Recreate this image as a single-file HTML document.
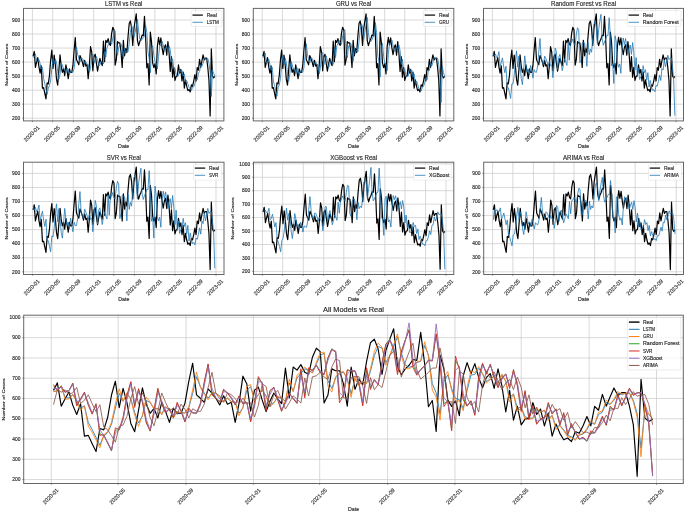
<!DOCTYPE html>
<html><head><meta charset="utf-8"><style>
html,body{margin:0;padding:0;background:#fff;width:685px;height:512px;overflow:hidden;}
svg{display:block;will-change:transform;font-family:"Liberation Sans",sans-serif;}
text{stroke:#333;stroke-width:0.15px;}
</style></head><body>
<svg width="685" height="512" viewBox="0 0 685 512" font-family="Liberation Sans, sans-serif"><g>
<line x1="32.40" y1="8.40" x2="32.40" y2="120.90" stroke="#c8c8c8" stroke-width="0.7"/>
<line x1="52.67" y1="8.40" x2="52.67" y2="120.90" stroke="#c8c8c8" stroke-width="0.7"/>
<line x1="73.27" y1="8.40" x2="73.27" y2="120.90" stroke="#c8c8c8" stroke-width="0.7"/>
<line x1="93.71" y1="8.40" x2="93.71" y2="120.90" stroke="#c8c8c8" stroke-width="0.7"/>
<line x1="113.81" y1="8.40" x2="113.81" y2="120.90" stroke="#c8c8c8" stroke-width="0.7"/>
<line x1="134.42" y1="8.40" x2="134.42" y2="120.90" stroke="#c8c8c8" stroke-width="0.7"/>
<line x1="154.86" y1="8.40" x2="154.86" y2="120.90" stroke="#c8c8c8" stroke-width="0.7"/>
<line x1="174.96" y1="8.40" x2="174.96" y2="120.90" stroke="#c8c8c8" stroke-width="0.7"/>
<line x1="195.56" y1="8.40" x2="195.56" y2="120.90" stroke="#c8c8c8" stroke-width="0.7"/>
<line x1="216.00" y1="8.40" x2="216.00" y2="120.90" stroke="#c8c8c8" stroke-width="0.7"/>
<line x1="23.50" y1="118.21" x2="223.90" y2="118.21" stroke="#c8c8c8" stroke-width="0.7"/>
<line x1="23.50" y1="104.18" x2="223.90" y2="104.18" stroke="#c8c8c8" stroke-width="0.7"/>
<line x1="23.50" y1="90.15" x2="223.90" y2="90.15" stroke="#c8c8c8" stroke-width="0.7"/>
<line x1="23.50" y1="76.12" x2="223.90" y2="76.12" stroke="#c8c8c8" stroke-width="0.7"/>
<line x1="23.50" y1="62.09" x2="223.90" y2="62.09" stroke="#c8c8c8" stroke-width="0.7"/>
<line x1="23.50" y1="48.06" x2="223.90" y2="48.06" stroke="#c8c8c8" stroke-width="0.7"/>
<line x1="23.50" y1="34.03" x2="223.90" y2="34.03" stroke="#c8c8c8" stroke-width="0.7"/>
<line x1="23.50" y1="20.00" x2="223.90" y2="20.00" stroke="#c8c8c8" stroke-width="0.7"/>
<polyline points="33.07,56.48 34.24,51.29 35.42,67.42 36.59,62.23 37.76,57.60 38.93,66.86 40.11,73.17 41.28,65.74 42.45,88.19 43.62,87.62 44.80,93.38 45.97,98.85 47.14,82.85 48.31,83.84 49.49,75.28 50.66,59.70 51.83,50.16 53.00,68.40 54.18,55.08 55.35,64.90 56.52,79.35 57.70,85.10 58.87,70.09 60.04,54.79 61.21,66.02 62.39,72.33 63.56,68.96 64.73,75.56 65.90,64.76 67.08,71.21 68.25,78.65 69.42,68.82 70.59,72.33 71.77,72.33 72.94,65.46 74.11,50.30 75.28,37.68 76.46,59.56 77.63,61.95 78.80,64.76 79.98,55.50 81.15,58.44 82.32,61.95 83.49,66.58 84.67,60.27 85.84,66.02 87.01,64.76 88.18,78.65 89.36,65.46 90.53,46.66 91.70,51.85 92.87,70.79 94.05,56.34 95.22,54.23 96.39,63.21 97.56,71.21 98.74,64.05 99.91,58.30 101.08,62.37 102.26,65.60 103.43,41.05 104.60,61.67 105.77,40.34 106.95,42.45 108.12,38.66 109.29,43.85 110.46,45.39 111.64,33.33 112.81,27.30 113.98,29.68 115.15,65.18 116.33,59.70 117.50,41.61 118.67,42.87 119.84,42.87 121.02,51.85 122.19,67.42 123.36,40.34 124.54,55.78 125.71,48.62 126.88,52.55 128.05,36.42 129.23,23.51 130.40,20.98 131.57,28.00 132.74,45.39 133.92,28.70 135.09,20.98 136.26,13.83 137.43,40.34 138.61,45.67 139.78,41.61 140.95,39.08 142.12,35.15 143.30,35.71 144.47,16.35 145.64,37.68 146.81,67.84 147.99,63.49 149.16,84.96 150.33,32.07 151.51,41.75 152.68,63.07 153.85,67.56 155.02,63.63 156.20,74.02 157.37,46.38 158.54,37.26 159.71,44.97 160.89,37.96 162.06,47.64 163.23,54.65 164.40,47.50 165.58,44.83 166.75,55.08 167.92,41.61 169.09,53.25 170.27,71.35 171.44,56.48 172.61,77.10 173.79,67.42 174.96,80.33 176.13,76.40 177.30,75.84 178.48,64.90 179.65,73.17 180.82,69.39 181.99,81.03 183.17,72.05 184.34,88.19 185.51,79.77 186.68,86.22 187.86,90.71 189.03,89.45 190.20,91.97 191.37,84.96 192.55,86.22 193.72,81.03 194.89,74.58 196.07,81.03 197.24,67.56 198.41,70.23 199.58,59.28 200.76,67.42 201.93,60.83 203.10,54.79 204.27,59.99 205.45,58.02 206.62,58.02 207.79,67.42 208.96,80.19 210.14,115.97 211.31,48.76 212.48,75.70 213.65,77.94 214.83,76.40" fill="none" stroke="#000" stroke-width="1.20" stroke-opacity="1.00" stroke-linejoin="round"/>
<polyline points="33.07,57.25 34.24,56.83 35.42,53.78 36.59,61.28 37.76,61.80 38.93,59.49 40.11,63.54 41.28,68.84 42.45,67.13 43.62,78.71 44.80,83.61 45.97,88.98 47.14,94.41 48.31,88.05 49.49,85.73 50.66,79.98 51.83,68.83 53.00,58.56 54.18,63.98 55.35,59.08 56.52,62.28 57.70,71.67 58.87,79.05 60.04,74.12 61.21,63.49 62.39,64.88 63.56,68.98 64.73,68.97 65.90,72.59 67.08,68.28 68.25,69.89 69.42,74.71 70.59,71.47 71.77,71.94 72.94,72.16 74.11,68.47 75.28,58.48 76.46,47.04 77.63,53.93 78.80,58.34 79.98,61.87 81.15,58.36 82.32,58.41 83.49,60.36 84.67,63.78 85.84,61.85 87.01,64.14 88.18,64.48 89.36,72.27 90.53,68.52 91.70,56.50 92.87,53.94 94.05,63.21 95.22,59.43 96.39,56.57 97.56,60.22 98.74,66.27 99.91,65.05 101.08,61.34 102.26,61.91 103.43,63.94 104.60,51.35 105.77,57.02 106.95,47.85 108.12,44.88 109.29,41.46 110.46,42.77 111.64,44.22 112.81,38.23 113.98,32.21 115.15,30.82 116.33,49.72 117.50,55.21 118.67,47.73 119.84,45.06 121.02,43.85 122.19,48.25 123.36,58.79 124.54,48.65 125.71,52.57 126.88,50.40 128.05,51.58 129.23,43.24 130.40,32.39 131.57,26.11 132.74,27.15 133.92,37.18 135.09,32.52 136.26,26.17 137.43,19.38 138.61,30.91 139.78,39.03 140.95,40.45 142.12,39.70 143.30,37.20 144.47,36.38 145.64,25.37 146.81,32.14 147.99,51.77 149.16,58.22 150.33,72.93 151.51,50.45 152.68,45.66 153.85,55.24 155.02,62.02 156.20,62.91 157.37,69.02 158.54,56.56 159.71,45.95 160.89,45.41 162.06,41.31 163.23,44.79 164.40,50.22 165.58,48.72 166.75,46.58 167.92,51.25 169.09,45.95 170.27,49.96 171.44,61.73 172.61,58.84 173.79,68.88 174.96,68.08 176.13,74.82 177.30,75.69 178.48,75.77 179.65,69.79 180.82,71.65 181.99,70.41 183.17,76.25 184.34,73.94 185.51,81.78 186.68,80.67 187.86,83.72 189.03,87.57 190.20,88.60 191.37,90.46 192.55,87.43 193.72,86.77 194.89,83.61 196.07,78.64 197.24,79.96 198.41,73.14 199.58,71.54 200.76,64.80 201.93,66.24 203.10,63.26 204.27,58.61 205.45,59.36 206.62,58.63 207.79,58.29 208.96,63.31 210.14,72.59 211.31,96.45 212.48,70.22 213.65,73.23 214.83,75.82" fill="none" stroke="#1f77b4" stroke-width="0.80" stroke-opacity="1.00" stroke-linejoin="round"/>
<rect x="23.50" y="8.40" width="200.40" height="112.50" fill="none" stroke="#666" stroke-width="1.0"/>
<line x1="32.40" y1="120.90" x2="32.40" y2="122.20" stroke="#444" stroke-width="0.6"/>
<text transform="translate(31.60,133.70) rotate(-45)" font-size="5.6" text-anchor="middle" dominant-baseline="central" fill="#222" textLength="19.8" lengthAdjust="spacingAndGlyphs">2020-01</text>
<line x1="52.67" y1="120.90" x2="52.67" y2="122.20" stroke="#444" stroke-width="0.6"/>
<text transform="translate(51.87,133.70) rotate(-45)" font-size="5.6" text-anchor="middle" dominant-baseline="central" fill="#222" textLength="19.8" lengthAdjust="spacingAndGlyphs">2020-05</text>
<line x1="73.27" y1="120.90" x2="73.27" y2="122.20" stroke="#444" stroke-width="0.6"/>
<text transform="translate(72.47,133.70) rotate(-45)" font-size="5.6" text-anchor="middle" dominant-baseline="central" fill="#222" textLength="19.8" lengthAdjust="spacingAndGlyphs">2020-09</text>
<line x1="93.71" y1="120.90" x2="93.71" y2="122.20" stroke="#444" stroke-width="0.6"/>
<text transform="translate(92.91,133.70) rotate(-45)" font-size="5.6" text-anchor="middle" dominant-baseline="central" fill="#222" textLength="19.8" lengthAdjust="spacingAndGlyphs">2021-01</text>
<line x1="113.81" y1="120.90" x2="113.81" y2="122.20" stroke="#444" stroke-width="0.6"/>
<text transform="translate(113.01,133.70) rotate(-45)" font-size="5.6" text-anchor="middle" dominant-baseline="central" fill="#222" textLength="19.8" lengthAdjust="spacingAndGlyphs">2021-05</text>
<line x1="134.42" y1="120.90" x2="134.42" y2="122.20" stroke="#444" stroke-width="0.6"/>
<text transform="translate(133.62,133.70) rotate(-45)" font-size="5.6" text-anchor="middle" dominant-baseline="central" fill="#222" textLength="19.8" lengthAdjust="spacingAndGlyphs">2021-09</text>
<line x1="154.86" y1="120.90" x2="154.86" y2="122.20" stroke="#444" stroke-width="0.6"/>
<text transform="translate(154.06,133.70) rotate(-45)" font-size="5.6" text-anchor="middle" dominant-baseline="central" fill="#222" textLength="19.8" lengthAdjust="spacingAndGlyphs">2022-01</text>
<line x1="174.96" y1="120.90" x2="174.96" y2="122.20" stroke="#444" stroke-width="0.6"/>
<text transform="translate(174.16,133.70) rotate(-45)" font-size="5.6" text-anchor="middle" dominant-baseline="central" fill="#222" textLength="19.8" lengthAdjust="spacingAndGlyphs">2022-05</text>
<line x1="195.56" y1="120.90" x2="195.56" y2="122.20" stroke="#444" stroke-width="0.6"/>
<text transform="translate(194.76,133.70) rotate(-45)" font-size="5.6" text-anchor="middle" dominant-baseline="central" fill="#222" textLength="19.8" lengthAdjust="spacingAndGlyphs">2022-09</text>
<line x1="216.00" y1="120.90" x2="216.00" y2="122.20" stroke="#444" stroke-width="0.6"/>
<text transform="translate(215.20,133.70) rotate(-45)" font-size="5.6" text-anchor="middle" dominant-baseline="central" fill="#222" textLength="19.8" lengthAdjust="spacingAndGlyphs">2023-01</text>
<line x1="22.20" y1="118.21" x2="23.50" y2="118.21" stroke="#444" stroke-width="0.6"/>
<text x="20.20" y="119.91" font-size="4.80" text-anchor="end" fill="#222" textLength="8.20" lengthAdjust="spacingAndGlyphs" >200</text>
<line x1="22.20" y1="104.18" x2="23.50" y2="104.18" stroke="#444" stroke-width="0.6"/>
<text x="20.20" y="105.88" font-size="4.80" text-anchor="end" fill="#222" textLength="8.20" lengthAdjust="spacingAndGlyphs" >300</text>
<line x1="22.20" y1="90.15" x2="23.50" y2="90.15" stroke="#444" stroke-width="0.6"/>
<text x="20.20" y="91.85" font-size="4.80" text-anchor="end" fill="#222" textLength="8.20" lengthAdjust="spacingAndGlyphs" >400</text>
<line x1="22.20" y1="76.12" x2="23.50" y2="76.12" stroke="#444" stroke-width="0.6"/>
<text x="20.20" y="77.82" font-size="4.80" text-anchor="end" fill="#222" textLength="8.20" lengthAdjust="spacingAndGlyphs" >500</text>
<line x1="22.20" y1="62.09" x2="23.50" y2="62.09" stroke="#444" stroke-width="0.6"/>
<text x="20.20" y="63.79" font-size="4.80" text-anchor="end" fill="#222" textLength="8.20" lengthAdjust="spacingAndGlyphs" >600</text>
<line x1="22.20" y1="48.06" x2="23.50" y2="48.06" stroke="#444" stroke-width="0.6"/>
<text x="20.20" y="49.76" font-size="4.80" text-anchor="end" fill="#222" textLength="8.20" lengthAdjust="spacingAndGlyphs" >700</text>
<line x1="22.20" y1="34.03" x2="23.50" y2="34.03" stroke="#444" stroke-width="0.6"/>
<text x="20.20" y="35.73" font-size="4.80" text-anchor="end" fill="#222" textLength="8.20" lengthAdjust="spacingAndGlyphs" >800</text>
<line x1="22.20" y1="20.00" x2="23.50" y2="20.00" stroke="#444" stroke-width="0.6"/>
<text x="20.20" y="21.70" font-size="4.80" text-anchor="end" fill="#222" textLength="8.20" lengthAdjust="spacingAndGlyphs" >900</text>
<text x="123.70" y="5.70" font-size="6.40" text-anchor="middle" fill="#222" textLength="37.30" lengthAdjust="spacingAndGlyphs" >LSTM vs Real</text>
<text x="123.70" y="147.70" font-size="5.00" text-anchor="middle" fill="#222" textLength="11.20" lengthAdjust="spacingAndGlyphs" >Date</text>
<text transform="translate(8.00,64.65) rotate(-90)" font-size="4.3" text-anchor="middle" fill="#222" textLength="42.2" lengthAdjust="spacingAndGlyphs">Number of Cases</text>
</g>
<rect x="191.20" y="10.50" width="30.70" height="15.9" rx="1" fill="#fff" fill-opacity="0.8" stroke="#dcdcdc" stroke-width="0.5"/>
<line x1="192.50" y1="15.10" x2="202.90" y2="15.10" stroke="#000" stroke-width="1.2"/>
<line x1="192.50" y1="22.30" x2="202.90" y2="22.30" stroke="#1f77b4" stroke-width="0.8"/>
<text x="206.70" y="16.80" font-size="4.90" text-anchor="start" fill="#222" textLength="10.10" lengthAdjust="spacingAndGlyphs" >Real</text>
<text x="206.70" y="24.00" font-size="4.90" text-anchor="start" fill="#222" textLength="12.20" lengthAdjust="spacingAndGlyphs" >LSTM</text>
<g>
<line x1="262.20" y1="8.40" x2="262.20" y2="120.90" stroke="#c8c8c8" stroke-width="0.7"/>
<line x1="282.47" y1="8.40" x2="282.47" y2="120.90" stroke="#c8c8c8" stroke-width="0.7"/>
<line x1="303.07" y1="8.40" x2="303.07" y2="120.90" stroke="#c8c8c8" stroke-width="0.7"/>
<line x1="323.51" y1="8.40" x2="323.51" y2="120.90" stroke="#c8c8c8" stroke-width="0.7"/>
<line x1="343.61" y1="8.40" x2="343.61" y2="120.90" stroke="#c8c8c8" stroke-width="0.7"/>
<line x1="364.22" y1="8.40" x2="364.22" y2="120.90" stroke="#c8c8c8" stroke-width="0.7"/>
<line x1="384.66" y1="8.40" x2="384.66" y2="120.90" stroke="#c8c8c8" stroke-width="0.7"/>
<line x1="404.76" y1="8.40" x2="404.76" y2="120.90" stroke="#c8c8c8" stroke-width="0.7"/>
<line x1="425.36" y1="8.40" x2="425.36" y2="120.90" stroke="#c8c8c8" stroke-width="0.7"/>
<line x1="445.80" y1="8.40" x2="445.80" y2="120.90" stroke="#c8c8c8" stroke-width="0.7"/>
<line x1="253.30" y1="118.21" x2="453.80" y2="118.21" stroke="#c8c8c8" stroke-width="0.7"/>
<line x1="253.30" y1="104.18" x2="453.80" y2="104.18" stroke="#c8c8c8" stroke-width="0.7"/>
<line x1="253.30" y1="90.15" x2="453.80" y2="90.15" stroke="#c8c8c8" stroke-width="0.7"/>
<line x1="253.30" y1="76.12" x2="453.80" y2="76.12" stroke="#c8c8c8" stroke-width="0.7"/>
<line x1="253.30" y1="62.09" x2="453.80" y2="62.09" stroke="#c8c8c8" stroke-width="0.7"/>
<line x1="253.30" y1="48.06" x2="453.80" y2="48.06" stroke="#c8c8c8" stroke-width="0.7"/>
<line x1="253.30" y1="34.03" x2="453.80" y2="34.03" stroke="#c8c8c8" stroke-width="0.7"/>
<line x1="253.30" y1="20.00" x2="453.80" y2="20.00" stroke="#c8c8c8" stroke-width="0.7"/>
<polyline points="262.87,56.48 264.04,51.29 265.22,67.42 266.39,62.23 267.56,57.60 268.73,66.86 269.91,73.17 271.08,65.74 272.25,88.19 273.42,87.62 274.60,93.38 275.77,98.85 276.94,82.85 278.11,83.84 279.29,75.28 280.46,59.70 281.63,50.16 282.80,68.40 283.98,55.08 285.15,64.90 286.32,79.35 287.50,85.10 288.67,70.09 289.84,54.79 291.01,66.02 292.19,72.33 293.36,68.96 294.53,75.56 295.70,64.76 296.88,71.21 298.05,78.65 299.22,68.82 300.39,72.33 301.57,72.33 302.74,65.46 303.91,50.30 305.08,37.68 306.26,59.56 307.43,61.95 308.60,64.76 309.78,55.50 310.95,58.44 312.12,61.95 313.29,66.58 314.47,60.27 315.64,66.02 316.81,64.76 317.98,78.65 319.16,65.46 320.33,46.66 321.50,51.85 322.67,70.79 323.85,56.34 325.02,54.23 326.19,63.21 327.36,71.21 328.54,64.05 329.71,58.30 330.88,62.37 332.06,65.60 333.23,41.05 334.40,61.67 335.57,40.34 336.75,42.45 337.92,38.66 339.09,43.85 340.26,45.39 341.44,33.33 342.61,27.30 343.78,29.68 344.95,65.18 346.13,59.70 347.30,41.61 348.47,42.87 349.64,42.87 350.82,51.85 351.99,67.42 353.16,40.34 354.34,55.78 355.51,48.62 356.68,52.55 357.85,36.42 359.03,23.51 360.20,20.98 361.37,28.00 362.54,45.39 363.72,28.70 364.89,20.98 366.06,13.83 367.23,40.34 368.41,45.67 369.58,41.61 370.75,39.08 371.92,35.15 373.10,35.71 374.27,16.35 375.44,37.68 376.61,67.84 377.79,63.49 378.96,84.96 380.13,32.07 381.31,41.75 382.48,63.07 383.65,67.56 384.82,63.63 386.00,74.02 387.17,46.38 388.34,37.26 389.51,44.97 390.69,37.96 391.86,47.64 393.03,54.65 394.20,47.50 395.38,44.83 396.55,55.08 397.72,41.61 398.89,53.25 400.07,71.35 401.24,56.48 402.41,77.10 403.59,67.42 404.76,80.33 405.93,76.40 407.10,75.84 408.28,64.90 409.45,73.17 410.62,69.39 411.79,81.03 412.97,72.05 414.14,88.19 415.31,79.77 416.48,86.22 417.66,90.71 418.83,89.45 420.00,91.97 421.17,84.96 422.35,86.22 423.52,81.03 424.69,74.58 425.87,81.03 427.04,67.56 428.21,70.23 429.38,59.28 430.56,67.42 431.73,60.83 432.90,54.79 434.07,59.99 435.25,58.02 436.42,58.02 437.59,67.42 438.76,80.19 439.94,115.97 441.11,48.76 442.28,75.70 443.45,77.94 444.63,76.40" fill="none" stroke="#000" stroke-width="1.20" stroke-opacity="1.00" stroke-linejoin="round"/>
<polyline points="262.87,57.42 264.04,56.79 265.22,53.10 266.39,62.70 267.56,62.38 268.73,59.18 269.91,64.33 271.08,70.25 272.25,67.23 273.42,81.27 274.60,85.53 275.77,90.79 276.94,96.19 278.11,87.25 279.29,84.96 280.46,78.47 281.63,65.90 282.80,55.36 283.98,64.10 285.15,58.05 286.32,62.64 287.50,73.83 288.67,81.38 289.84,73.81 291.01,61.07 292.19,64.39 293.36,69.71 294.53,69.21 295.70,73.46 296.88,67.63 298.05,70.03 299.22,75.80 300.39,71.13 301.57,71.93 302.74,72.20 303.91,67.68 305.08,56.04 306.26,43.74 307.43,54.34 308.60,59.44 309.78,63.00 310.95,57.97 312.12,58.29 313.29,60.74 314.47,64.65 315.64,61.71 316.81,64.60 317.98,64.70 319.16,74.04 320.33,68.29 321.50,53.80 322.67,52.49 323.85,64.75 325.02,59.11 326.19,55.84 327.36,60.78 328.54,67.77 329.71,65.28 330.88,60.60 332.06,61.79 333.23,64.34 334.40,48.73 335.57,57.40 336.75,45.97 337.92,43.61 339.09,40.29 340.26,42.68 341.44,44.50 342.61,37.01 343.78,30.50 344.95,29.95 346.13,53.55 347.30,57.67 348.47,46.91 349.64,44.20 350.82,43.31 351.99,49.03 353.16,61.35 354.34,47.28 355.51,52.97 356.68,50.06 357.85,51.73 359.03,41.47 360.20,29.43 361.37,23.77 362.54,26.60 363.72,39.19 364.89,32.16 366.06,24.67 367.23,17.41 368.41,32.77 369.58,41.42 370.75,41.54 371.92,39.89 373.10,36.72 374.27,36.04 375.44,22.85 376.61,32.78 377.79,56.27 378.96,61.11 380.13,77.09 381.31,46.92 382.48,43.45 383.65,56.60 384.82,63.94 386.00,63.74 387.17,70.62 388.34,54.38 389.51,42.91 390.69,44.29 391.86,40.05 393.03,45.13 394.20,51.51 395.38,48.82 396.55,46.15 397.72,52.13 398.89,45.08 400.07,50.55 401.24,64.49 402.41,59.12 403.59,71.17 404.76,68.66 405.93,76.48 407.10,76.43 408.28,76.03 409.45,68.57 410.62,71.65 411.79,70.13 412.97,77.43 414.14,73.83 415.31,83.45 416.48,80.98 417.66,84.49 418.83,88.66 420.00,89.19 421.17,91.05 422.35,86.97 423.52,86.47 424.69,82.83 425.87,77.30 427.04,79.80 428.21,71.60 429.38,70.68 430.56,63.04 431.73,65.98 432.90,62.53 434.07,57.35 435.25,59.11 436.42,58.38 437.59,58.14 438.76,64.36 439.94,74.96 441.11,102.44 442.28,66.47 443.45,72.65 444.63,76.20" fill="none" stroke="#1f77b4" stroke-width="0.80" stroke-opacity="1.00" stroke-linejoin="round"/>
<rect x="253.30" y="8.40" width="200.50" height="112.50" fill="none" stroke="#666" stroke-width="1.0"/>
<line x1="262.20" y1="120.90" x2="262.20" y2="122.20" stroke="#444" stroke-width="0.6"/>
<text transform="translate(261.40,133.70) rotate(-45)" font-size="5.6" text-anchor="middle" dominant-baseline="central" fill="#222" textLength="19.8" lengthAdjust="spacingAndGlyphs">2020-01</text>
<line x1="282.47" y1="120.90" x2="282.47" y2="122.20" stroke="#444" stroke-width="0.6"/>
<text transform="translate(281.67,133.70) rotate(-45)" font-size="5.6" text-anchor="middle" dominant-baseline="central" fill="#222" textLength="19.8" lengthAdjust="spacingAndGlyphs">2020-05</text>
<line x1="303.07" y1="120.90" x2="303.07" y2="122.20" stroke="#444" stroke-width="0.6"/>
<text transform="translate(302.27,133.70) rotate(-45)" font-size="5.6" text-anchor="middle" dominant-baseline="central" fill="#222" textLength="19.8" lengthAdjust="spacingAndGlyphs">2020-09</text>
<line x1="323.51" y1="120.90" x2="323.51" y2="122.20" stroke="#444" stroke-width="0.6"/>
<text transform="translate(322.71,133.70) rotate(-45)" font-size="5.6" text-anchor="middle" dominant-baseline="central" fill="#222" textLength="19.8" lengthAdjust="spacingAndGlyphs">2021-01</text>
<line x1="343.61" y1="120.90" x2="343.61" y2="122.20" stroke="#444" stroke-width="0.6"/>
<text transform="translate(342.81,133.70) rotate(-45)" font-size="5.6" text-anchor="middle" dominant-baseline="central" fill="#222" textLength="19.8" lengthAdjust="spacingAndGlyphs">2021-05</text>
<line x1="364.22" y1="120.90" x2="364.22" y2="122.20" stroke="#444" stroke-width="0.6"/>
<text transform="translate(363.42,133.70) rotate(-45)" font-size="5.6" text-anchor="middle" dominant-baseline="central" fill="#222" textLength="19.8" lengthAdjust="spacingAndGlyphs">2021-09</text>
<line x1="384.66" y1="120.90" x2="384.66" y2="122.20" stroke="#444" stroke-width="0.6"/>
<text transform="translate(383.86,133.70) rotate(-45)" font-size="5.6" text-anchor="middle" dominant-baseline="central" fill="#222" textLength="19.8" lengthAdjust="spacingAndGlyphs">2022-01</text>
<line x1="404.76" y1="120.90" x2="404.76" y2="122.20" stroke="#444" stroke-width="0.6"/>
<text transform="translate(403.96,133.70) rotate(-45)" font-size="5.6" text-anchor="middle" dominant-baseline="central" fill="#222" textLength="19.8" lengthAdjust="spacingAndGlyphs">2022-05</text>
<line x1="425.36" y1="120.90" x2="425.36" y2="122.20" stroke="#444" stroke-width="0.6"/>
<text transform="translate(424.56,133.70) rotate(-45)" font-size="5.6" text-anchor="middle" dominant-baseline="central" fill="#222" textLength="19.8" lengthAdjust="spacingAndGlyphs">2022-09</text>
<line x1="445.80" y1="120.90" x2="445.80" y2="122.20" stroke="#444" stroke-width="0.6"/>
<text transform="translate(445.00,133.70) rotate(-45)" font-size="5.6" text-anchor="middle" dominant-baseline="central" fill="#222" textLength="19.8" lengthAdjust="spacingAndGlyphs">2023-01</text>
<line x1="252.00" y1="118.21" x2="253.30" y2="118.21" stroke="#444" stroke-width="0.6"/>
<text x="250.00" y="119.91" font-size="4.80" text-anchor="end" fill="#222" textLength="8.20" lengthAdjust="spacingAndGlyphs" >200</text>
<line x1="252.00" y1="104.18" x2="253.30" y2="104.18" stroke="#444" stroke-width="0.6"/>
<text x="250.00" y="105.88" font-size="4.80" text-anchor="end" fill="#222" textLength="8.20" lengthAdjust="spacingAndGlyphs" >300</text>
<line x1="252.00" y1="90.15" x2="253.30" y2="90.15" stroke="#444" stroke-width="0.6"/>
<text x="250.00" y="91.85" font-size="4.80" text-anchor="end" fill="#222" textLength="8.20" lengthAdjust="spacingAndGlyphs" >400</text>
<line x1="252.00" y1="76.12" x2="253.30" y2="76.12" stroke="#444" stroke-width="0.6"/>
<text x="250.00" y="77.82" font-size="4.80" text-anchor="end" fill="#222" textLength="8.20" lengthAdjust="spacingAndGlyphs" >500</text>
<line x1="252.00" y1="62.09" x2="253.30" y2="62.09" stroke="#444" stroke-width="0.6"/>
<text x="250.00" y="63.79" font-size="4.80" text-anchor="end" fill="#222" textLength="8.20" lengthAdjust="spacingAndGlyphs" >600</text>
<line x1="252.00" y1="48.06" x2="253.30" y2="48.06" stroke="#444" stroke-width="0.6"/>
<text x="250.00" y="49.76" font-size="4.80" text-anchor="end" fill="#222" textLength="8.20" lengthAdjust="spacingAndGlyphs" >700</text>
<line x1="252.00" y1="34.03" x2="253.30" y2="34.03" stroke="#444" stroke-width="0.6"/>
<text x="250.00" y="35.73" font-size="4.80" text-anchor="end" fill="#222" textLength="8.20" lengthAdjust="spacingAndGlyphs" >800</text>
<line x1="252.00" y1="20.00" x2="253.30" y2="20.00" stroke="#444" stroke-width="0.6"/>
<text x="250.00" y="21.70" font-size="4.80" text-anchor="end" fill="#222" textLength="8.20" lengthAdjust="spacingAndGlyphs" >900</text>
<text x="353.55" y="5.70" font-size="6.40" text-anchor="middle" fill="#222" textLength="35.30" lengthAdjust="spacingAndGlyphs" >GRU vs Real</text>
<text x="353.55" y="147.70" font-size="5.00" text-anchor="middle" fill="#222" textLength="11.20" lengthAdjust="spacingAndGlyphs" >Date</text>
<text transform="translate(237.80,64.65) rotate(-90)" font-size="4.3" text-anchor="middle" fill="#222" textLength="42.2" lengthAdjust="spacingAndGlyphs">Number of Cases</text>
</g>
<rect x="423.40" y="10.50" width="27.80" height="15.9" rx="1" fill="#fff" fill-opacity="0.8" stroke="#dcdcdc" stroke-width="0.5"/>
<line x1="424.70" y1="15.10" x2="435.10" y2="15.10" stroke="#000" stroke-width="1.2"/>
<line x1="424.70" y1="22.30" x2="435.10" y2="22.30" stroke="#1f77b4" stroke-width="0.8"/>
<text x="438.90" y="16.80" font-size="4.90" text-anchor="start" fill="#222" textLength="10.10" lengthAdjust="spacingAndGlyphs" >Real</text>
<text x="438.90" y="24.00" font-size="4.90" text-anchor="start" fill="#222" textLength="10.00" lengthAdjust="spacingAndGlyphs" >GRU</text>
<g>
<line x1="492.40" y1="8.40" x2="492.40" y2="120.90" stroke="#c8c8c8" stroke-width="0.7"/>
<line x1="512.67" y1="8.40" x2="512.67" y2="120.90" stroke="#c8c8c8" stroke-width="0.7"/>
<line x1="533.27" y1="8.40" x2="533.27" y2="120.90" stroke="#c8c8c8" stroke-width="0.7"/>
<line x1="553.71" y1="8.40" x2="553.71" y2="120.90" stroke="#c8c8c8" stroke-width="0.7"/>
<line x1="573.81" y1="8.40" x2="573.81" y2="120.90" stroke="#c8c8c8" stroke-width="0.7"/>
<line x1="594.42" y1="8.40" x2="594.42" y2="120.90" stroke="#c8c8c8" stroke-width="0.7"/>
<line x1="614.86" y1="8.40" x2="614.86" y2="120.90" stroke="#c8c8c8" stroke-width="0.7"/>
<line x1="634.96" y1="8.40" x2="634.96" y2="120.90" stroke="#c8c8c8" stroke-width="0.7"/>
<line x1="655.56" y1="8.40" x2="655.56" y2="120.90" stroke="#c8c8c8" stroke-width="0.7"/>
<line x1="676.00" y1="8.40" x2="676.00" y2="120.90" stroke="#c8c8c8" stroke-width="0.7"/>
<line x1="483.50" y1="118.21" x2="683.50" y2="118.21" stroke="#c8c8c8" stroke-width="0.7"/>
<line x1="483.50" y1="104.18" x2="683.50" y2="104.18" stroke="#c8c8c8" stroke-width="0.7"/>
<line x1="483.50" y1="90.15" x2="683.50" y2="90.15" stroke="#c8c8c8" stroke-width="0.7"/>
<line x1="483.50" y1="76.12" x2="683.50" y2="76.12" stroke="#c8c8c8" stroke-width="0.7"/>
<line x1="483.50" y1="62.09" x2="683.50" y2="62.09" stroke="#c8c8c8" stroke-width="0.7"/>
<line x1="483.50" y1="48.06" x2="683.50" y2="48.06" stroke="#c8c8c8" stroke-width="0.7"/>
<line x1="483.50" y1="34.03" x2="683.50" y2="34.03" stroke="#c8c8c8" stroke-width="0.7"/>
<line x1="483.50" y1="20.00" x2="683.50" y2="20.00" stroke="#c8c8c8" stroke-width="0.7"/>
<polyline points="493.07,56.48 494.24,51.29 495.42,67.42 496.59,62.23 497.76,57.60 498.93,66.86 500.11,73.17 501.28,65.74 502.45,88.19 503.62,87.62 504.80,93.38 505.97,98.85 507.14,82.85 508.31,83.84 509.49,75.28 510.66,59.70 511.83,50.16 513.00,68.40 514.18,55.08 515.35,64.90 516.52,79.35 517.70,85.10 518.87,70.09 520.04,54.79 521.21,66.02 522.39,72.33 523.56,68.96 524.73,75.56 525.90,64.76 527.08,71.21 528.25,78.65 529.42,68.82 530.59,72.33 531.77,72.33 532.94,65.46 534.11,50.30 535.28,37.68 536.46,59.56 537.63,61.95 538.80,64.76 539.98,55.50 541.15,58.44 542.32,61.95 543.49,66.58 544.67,60.27 545.84,66.02 547.01,64.76 548.18,78.65 549.36,65.46 550.53,46.66 551.70,51.85 552.87,70.79 554.05,56.34 555.22,54.23 556.39,63.21 557.56,71.21 558.74,64.05 559.91,58.30 561.08,62.37 562.26,65.60 563.43,41.05 564.60,61.67 565.77,40.34 566.95,42.45 568.12,38.66 569.29,43.85 570.46,45.39 571.64,33.33 572.81,27.30 573.98,29.68 575.15,65.18 576.33,59.70 577.50,41.61 578.67,42.87 579.84,42.87 581.02,51.85 582.19,67.42 583.36,40.34 584.54,55.78 585.71,48.62 586.88,52.55 588.05,36.42 589.23,23.51 590.40,20.98 591.57,28.00 592.74,45.39 593.92,28.70 595.09,20.98 596.26,13.83 597.43,40.34 598.61,45.67 599.78,41.61 600.95,39.08 602.12,35.15 603.30,35.71 604.47,16.35 605.64,37.68 606.81,67.84 607.99,63.49 609.16,84.96 610.33,32.07 611.51,41.75 612.68,63.07 613.85,67.56 615.02,63.63 616.20,74.02 617.37,46.38 618.54,37.26 619.71,44.97 620.89,37.96 622.06,47.64 623.23,54.65 624.40,47.50 625.58,44.83 626.75,55.08 627.92,41.61 629.09,53.25 630.27,71.35 631.44,56.48 632.61,77.10 633.79,67.42 634.96,80.33 636.13,76.40 637.30,75.84 638.48,64.90 639.65,73.17 640.82,69.39 641.99,81.03 643.17,72.05 644.34,88.19 645.51,79.77 646.68,86.22 647.86,90.71 649.03,89.45 650.20,91.97 651.37,84.96 652.55,86.22 653.72,81.03 654.89,74.58 656.07,81.03 657.24,67.56 658.41,70.23 659.58,59.28 660.76,67.42 661.93,60.83 663.10,54.79 664.27,59.99 665.45,58.02 666.62,58.02 667.79,67.42 668.96,80.19 670.14,115.97 671.31,48.76 672.48,75.70 673.65,77.94 674.83,76.40" fill="none" stroke="#000" stroke-width="1.20" stroke-opacity="1.00" stroke-linejoin="round"/>
<polyline points="493.07,53.25 494.24,56.18 495.42,53.87 496.59,57.59 497.76,56.58 498.93,51.65 500.11,66.29 501.28,62.59 502.45,57.92 503.62,66.21 504.80,72.73 505.97,66.26 507.14,86.61 508.31,87.66 509.49,92.97 510.66,98.47 511.83,83.97 513.00,83.77 514.18,75.88 515.35,60.80 516.52,50.83 517.70,67.13 518.87,56.01 520.04,64.21 521.21,78.34 522.39,84.70 523.56,71.14 524.73,55.86 525.90,65.23 527.08,71.89 528.25,69.20 529.42,75.10 530.59,65.51 531.77,70.76 532.94,78.12 534.11,69.51 535.28,72.09 536.46,72.33 537.63,65.94 538.80,51.37 539.98,38.56 541.15,58.03 542.32,61.78 543.49,64.56 544.67,56.14 545.84,58.24 547.01,61.70 548.18,66.26 549.36,60.71 550.53,65.62 551.70,64.84 552.87,77.67 554.05,66.38 555.22,47.97 556.39,51.48 557.56,69.46 558.74,57.35 559.91,54.38 561.08,62.58 562.26,70.65 563.43,64.56 564.60,58.70 565.77,62.09 566.95,65.37 568.12,42.76 569.29,60.23 570.46,41.84 571.64,42.30 572.81,38.93 573.98,43.49 575.15,45.29 576.33,34.17 577.50,27.72 578.67,29.51 579.84,62.69 581.02,60.09 582.19,42.87 583.36,42.78 584.54,42.87 585.71,51.22 586.88,66.33 588.05,42.24 589.23,54.70 590.40,49.12 591.57,52.27 592.74,37.54 593.92,24.41 595.09,21.16 596.26,27.51 597.43,44.18 598.61,29.87 599.78,21.52 600.95,14.33 602.12,38.49 603.30,45.30 604.47,41.89 605.64,39.26 606.81,35.43 607.99,35.67 609.16,17.71 610.33,36.19 611.51,65.73 612.68,63.80 613.85,83.46 615.02,35.77 616.20,41.07 617.37,61.58 618.54,67.25 619.71,63.91 620.89,73.29 622.06,48.31 623.23,37.90 624.40,44.43 625.58,38.45 626.75,46.96 627.92,54.16 629.09,48.00 630.27,45.02 631.44,54.36 632.61,42.55 633.79,52.44 634.96,70.08 636.13,57.52 637.30,75.66 638.48,68.10 639.65,79.43 640.82,76.68 641.99,75.88 643.17,65.66 644.34,72.59 645.51,69.65 646.68,80.22 647.86,72.68 649.03,87.06 650.20,80.36 651.37,85.77 652.55,90.40 653.72,89.54 654.89,91.80 656.07,85.45 657.24,86.13 658.41,81.39 659.58,75.03 660.76,80.58 661.93,68.50 663.10,70.04 664.27,60.05 665.45,66.85 666.62,61.29 667.79,55.22 668.96,59.62 670.14,58.16 671.31,58.02 672.48,66.76 673.65,79.29 674.83,115.68" fill="none" stroke="#1f77b4" stroke-width="0.80" stroke-opacity="1.00" stroke-linejoin="round"/>
<rect x="483.50" y="8.40" width="200.00" height="112.50" fill="none" stroke="#666" stroke-width="1.0"/>
<line x1="492.40" y1="120.90" x2="492.40" y2="122.20" stroke="#444" stroke-width="0.6"/>
<text transform="translate(491.60,133.70) rotate(-45)" font-size="5.6" text-anchor="middle" dominant-baseline="central" fill="#222" textLength="19.8" lengthAdjust="spacingAndGlyphs">2020-01</text>
<line x1="512.67" y1="120.90" x2="512.67" y2="122.20" stroke="#444" stroke-width="0.6"/>
<text transform="translate(511.87,133.70) rotate(-45)" font-size="5.6" text-anchor="middle" dominant-baseline="central" fill="#222" textLength="19.8" lengthAdjust="spacingAndGlyphs">2020-05</text>
<line x1="533.27" y1="120.90" x2="533.27" y2="122.20" stroke="#444" stroke-width="0.6"/>
<text transform="translate(532.47,133.70) rotate(-45)" font-size="5.6" text-anchor="middle" dominant-baseline="central" fill="#222" textLength="19.8" lengthAdjust="spacingAndGlyphs">2020-09</text>
<line x1="553.71" y1="120.90" x2="553.71" y2="122.20" stroke="#444" stroke-width="0.6"/>
<text transform="translate(552.91,133.70) rotate(-45)" font-size="5.6" text-anchor="middle" dominant-baseline="central" fill="#222" textLength="19.8" lengthAdjust="spacingAndGlyphs">2021-01</text>
<line x1="573.81" y1="120.90" x2="573.81" y2="122.20" stroke="#444" stroke-width="0.6"/>
<text transform="translate(573.01,133.70) rotate(-45)" font-size="5.6" text-anchor="middle" dominant-baseline="central" fill="#222" textLength="19.8" lengthAdjust="spacingAndGlyphs">2021-05</text>
<line x1="594.42" y1="120.90" x2="594.42" y2="122.20" stroke="#444" stroke-width="0.6"/>
<text transform="translate(593.62,133.70) rotate(-45)" font-size="5.6" text-anchor="middle" dominant-baseline="central" fill="#222" textLength="19.8" lengthAdjust="spacingAndGlyphs">2021-09</text>
<line x1="614.86" y1="120.90" x2="614.86" y2="122.20" stroke="#444" stroke-width="0.6"/>
<text transform="translate(614.06,133.70) rotate(-45)" font-size="5.6" text-anchor="middle" dominant-baseline="central" fill="#222" textLength="19.8" lengthAdjust="spacingAndGlyphs">2022-01</text>
<line x1="634.96" y1="120.90" x2="634.96" y2="122.20" stroke="#444" stroke-width="0.6"/>
<text transform="translate(634.16,133.70) rotate(-45)" font-size="5.6" text-anchor="middle" dominant-baseline="central" fill="#222" textLength="19.8" lengthAdjust="spacingAndGlyphs">2022-05</text>
<line x1="655.56" y1="120.90" x2="655.56" y2="122.20" stroke="#444" stroke-width="0.6"/>
<text transform="translate(654.76,133.70) rotate(-45)" font-size="5.6" text-anchor="middle" dominant-baseline="central" fill="#222" textLength="19.8" lengthAdjust="spacingAndGlyphs">2022-09</text>
<line x1="676.00" y1="120.90" x2="676.00" y2="122.20" stroke="#444" stroke-width="0.6"/>
<text transform="translate(675.20,133.70) rotate(-45)" font-size="5.6" text-anchor="middle" dominant-baseline="central" fill="#222" textLength="19.8" lengthAdjust="spacingAndGlyphs">2023-01</text>
<line x1="482.20" y1="118.21" x2="483.50" y2="118.21" stroke="#444" stroke-width="0.6"/>
<text x="480.20" y="119.91" font-size="4.80" text-anchor="end" fill="#222" textLength="8.20" lengthAdjust="spacingAndGlyphs" >200</text>
<line x1="482.20" y1="104.18" x2="483.50" y2="104.18" stroke="#444" stroke-width="0.6"/>
<text x="480.20" y="105.88" font-size="4.80" text-anchor="end" fill="#222" textLength="8.20" lengthAdjust="spacingAndGlyphs" >300</text>
<line x1="482.20" y1="90.15" x2="483.50" y2="90.15" stroke="#444" stroke-width="0.6"/>
<text x="480.20" y="91.85" font-size="4.80" text-anchor="end" fill="#222" textLength="8.20" lengthAdjust="spacingAndGlyphs" >400</text>
<line x1="482.20" y1="76.12" x2="483.50" y2="76.12" stroke="#444" stroke-width="0.6"/>
<text x="480.20" y="77.82" font-size="4.80" text-anchor="end" fill="#222" textLength="8.20" lengthAdjust="spacingAndGlyphs" >500</text>
<line x1="482.20" y1="62.09" x2="483.50" y2="62.09" stroke="#444" stroke-width="0.6"/>
<text x="480.20" y="63.79" font-size="4.80" text-anchor="end" fill="#222" textLength="8.20" lengthAdjust="spacingAndGlyphs" >600</text>
<line x1="482.20" y1="48.06" x2="483.50" y2="48.06" stroke="#444" stroke-width="0.6"/>
<text x="480.20" y="49.76" font-size="4.80" text-anchor="end" fill="#222" textLength="8.20" lengthAdjust="spacingAndGlyphs" >700</text>
<line x1="482.20" y1="34.03" x2="483.50" y2="34.03" stroke="#444" stroke-width="0.6"/>
<text x="480.20" y="35.73" font-size="4.80" text-anchor="end" fill="#222" textLength="8.20" lengthAdjust="spacingAndGlyphs" >800</text>
<line x1="482.20" y1="20.00" x2="483.50" y2="20.00" stroke="#444" stroke-width="0.6"/>
<text x="480.20" y="21.70" font-size="4.80" text-anchor="end" fill="#222" textLength="8.20" lengthAdjust="spacingAndGlyphs" >900</text>
<text x="583.50" y="5.70" font-size="6.40" text-anchor="middle" fill="#222" textLength="65.10" lengthAdjust="spacingAndGlyphs" >Random Forest vs Real</text>
<text x="583.50" y="147.70" font-size="5.00" text-anchor="middle" fill="#222" textLength="11.20" lengthAdjust="spacingAndGlyphs" >Date</text>
<text transform="translate(468.00,64.65) rotate(-90)" font-size="4.3" text-anchor="middle" fill="#222" textLength="42.2" lengthAdjust="spacingAndGlyphs">Number of Cases</text>
</g>
<rect x="627.30" y="10.50" width="53.60" height="15.9" rx="1" fill="#fff" fill-opacity="0.8" stroke="#dcdcdc" stroke-width="0.5"/>
<line x1="628.60" y1="15.10" x2="639.00" y2="15.10" stroke="#000" stroke-width="1.2"/>
<line x1="628.60" y1="22.30" x2="639.00" y2="22.30" stroke="#1f77b4" stroke-width="0.8"/>
<text x="642.80" y="16.80" font-size="4.90" text-anchor="start" fill="#222" textLength="10.10" lengthAdjust="spacingAndGlyphs" >Real</text>
<text x="642.80" y="24.00" font-size="4.90" text-anchor="start" fill="#222" textLength="36.00" lengthAdjust="spacingAndGlyphs" >Random Forest</text>
<g>
<line x1="32.40" y1="162.20" x2="32.40" y2="274.50" stroke="#c8c8c8" stroke-width="0.7"/>
<line x1="52.67" y1="162.20" x2="52.67" y2="274.50" stroke="#c8c8c8" stroke-width="0.7"/>
<line x1="73.27" y1="162.20" x2="73.27" y2="274.50" stroke="#c8c8c8" stroke-width="0.7"/>
<line x1="93.71" y1="162.20" x2="93.71" y2="274.50" stroke="#c8c8c8" stroke-width="0.7"/>
<line x1="113.81" y1="162.20" x2="113.81" y2="274.50" stroke="#c8c8c8" stroke-width="0.7"/>
<line x1="134.42" y1="162.20" x2="134.42" y2="274.50" stroke="#c8c8c8" stroke-width="0.7"/>
<line x1="154.86" y1="162.20" x2="154.86" y2="274.50" stroke="#c8c8c8" stroke-width="0.7"/>
<line x1="174.96" y1="162.20" x2="174.96" y2="274.50" stroke="#c8c8c8" stroke-width="0.7"/>
<line x1="195.56" y1="162.20" x2="195.56" y2="274.50" stroke="#c8c8c8" stroke-width="0.7"/>
<line x1="216.00" y1="162.20" x2="216.00" y2="274.50" stroke="#c8c8c8" stroke-width="0.7"/>
<line x1="23.50" y1="271.82" x2="224.00" y2="271.82" stroke="#c8c8c8" stroke-width="0.7"/>
<line x1="23.50" y1="257.76" x2="224.00" y2="257.76" stroke="#c8c8c8" stroke-width="0.7"/>
<line x1="23.50" y1="243.70" x2="224.00" y2="243.70" stroke="#c8c8c8" stroke-width="0.7"/>
<line x1="23.50" y1="229.64" x2="224.00" y2="229.64" stroke="#c8c8c8" stroke-width="0.7"/>
<line x1="23.50" y1="215.58" x2="224.00" y2="215.58" stroke="#c8c8c8" stroke-width="0.7"/>
<line x1="23.50" y1="201.52" x2="224.00" y2="201.52" stroke="#c8c8c8" stroke-width="0.7"/>
<line x1="23.50" y1="187.46" x2="224.00" y2="187.46" stroke="#c8c8c8" stroke-width="0.7"/>
<line x1="23.50" y1="173.40" x2="224.00" y2="173.40" stroke="#c8c8c8" stroke-width="0.7"/>
<polyline points="33.07,209.96 34.24,204.75 35.42,220.92 36.59,215.72 37.76,211.08 38.93,220.36 40.11,226.69 41.28,219.24 42.45,241.73 43.62,241.17 44.80,246.93 45.97,252.42 47.14,236.39 48.31,237.37 49.49,228.80 50.66,213.19 51.83,203.63 53.00,221.91 54.18,208.55 55.35,218.39 56.52,232.87 57.70,238.64 58.87,223.59 60.04,208.27 61.21,219.52 62.39,225.84 63.56,222.47 64.73,229.08 65.90,218.25 67.08,224.72 68.25,232.17 69.42,222.33 70.59,225.84 71.77,225.84 72.94,218.95 74.11,203.77 75.28,191.12 76.46,213.05 77.63,215.44 78.80,218.25 79.98,208.97 81.15,211.92 82.32,215.44 83.49,220.08 84.67,213.75 85.84,219.52 87.01,218.25 88.18,232.17 89.36,218.95 90.53,200.11 91.70,205.32 92.87,224.30 94.05,209.82 95.22,207.71 96.39,216.70 97.56,224.72 98.74,217.55 99.91,211.78 101.08,215.86 102.26,219.09 103.43,194.49 104.60,215.16 105.77,193.79 106.95,195.90 108.12,192.10 109.29,197.30 110.46,198.85 111.64,186.76 112.81,180.71 113.98,183.10 115.15,218.67 116.33,213.19 117.50,195.05 118.67,196.32 119.84,196.32 121.02,205.32 122.19,220.92 123.36,193.79 124.54,209.25 125.71,202.08 126.88,206.02 128.05,189.85 129.23,176.91 130.40,174.38 131.57,181.41 132.74,198.85 133.92,182.12 135.09,174.38 136.26,167.21 137.43,193.79 138.61,199.13 139.78,195.05 140.95,192.52 142.12,188.58 143.30,189.15 144.47,169.74 145.64,191.12 146.81,221.34 147.99,216.99 149.16,238.50 150.33,185.49 151.51,195.19 152.68,216.56 153.85,221.06 155.02,217.13 156.20,227.53 157.37,199.83 158.54,190.69 159.71,198.43 160.89,191.40 162.06,201.10 163.23,208.13 164.40,200.96 165.58,198.29 166.75,208.55 167.92,195.05 169.09,206.72 170.27,224.86 171.44,209.96 172.61,230.62 173.79,220.92 174.96,233.86 176.13,229.92 177.30,229.36 178.48,218.39 179.65,226.69 180.82,222.89 181.99,234.56 183.17,225.56 184.34,241.73 185.51,233.30 186.68,239.76 187.86,244.26 189.03,243.00 190.20,245.53 191.37,238.50 192.55,239.76 193.72,234.56 194.89,228.09 196.07,234.56 197.24,221.06 198.41,223.73 199.58,212.77 200.76,220.92 201.93,214.31 203.10,208.27 204.27,213.47 205.45,211.50 206.62,211.50 207.79,220.92 208.96,233.72 210.14,269.57 211.31,202.22 212.48,229.22 213.65,231.47 214.83,229.92" fill="none" stroke="#000" stroke-width="1.20" stroke-opacity="1.00" stroke-linejoin="round"/>
<polyline points="33.07,205.93 34.24,210.07 35.42,207.31 36.59,211.45 37.76,210.07 38.93,204.97 40.11,220.82 41.28,215.72 42.45,211.17 43.62,220.26 44.80,226.47 45.97,219.16 47.14,241.21 48.31,240.66 49.49,246.31 50.66,251.68 51.83,235.97 53.00,236.94 54.18,228.53 55.35,213.24 56.52,203.87 57.70,221.78 58.87,208.69 60.04,218.34 61.21,232.53 62.39,238.18 63.56,223.43 64.73,208.42 65.90,219.44 67.08,225.64 68.25,222.33 69.42,228.81 70.59,218.20 71.77,224.54 72.94,231.84 74.11,222.19 75.28,225.64 76.46,225.64 77.63,218.89 78.80,204.01 79.98,191.60 81.15,213.10 82.32,215.44 83.49,218.20 84.67,209.10 85.84,212.00 87.01,215.44 88.18,219.99 89.36,213.79 90.53,219.44 91.70,218.20 92.87,231.84 94.05,218.89 95.22,200.42 96.39,205.52 97.56,224.12 98.74,209.93 99.91,207.86 101.08,216.68 102.26,224.54 103.43,217.51 104.60,211.86 105.77,215.86 106.95,219.02 108.12,194.91 109.29,215.17 110.46,194.22 111.64,196.29 112.81,192.57 113.98,197.67 115.15,199.18 116.33,187.33 117.50,181.41 118.67,183.75 119.84,218.61 121.02,213.24 122.19,195.46 123.36,196.70 124.54,196.70 125.71,205.52 126.88,220.82 128.05,194.22 129.23,209.38 130.40,202.35 131.57,206.21 132.74,190.36 133.92,177.69 135.09,175.21 136.26,182.10 137.43,199.18 138.61,182.79 139.78,175.21 140.95,168.18 142.12,194.22 143.30,199.46 144.47,195.46 145.64,192.98 146.81,189.12 147.99,189.68 149.16,170.66 150.33,191.60 151.51,221.23 152.68,216.96 153.85,238.04 155.02,186.09 156.20,195.60 157.37,216.54 158.54,220.95 159.71,217.10 160.89,227.29 162.06,200.15 163.23,191.19 164.40,198.77 165.58,191.88 166.75,201.39 167.92,208.28 169.09,201.25 170.27,198.63 171.44,208.69 172.61,195.46 173.79,206.90 174.96,224.67 176.13,210.07 177.30,230.32 178.48,220.82 179.65,233.49 180.82,229.63 181.99,229.08 183.17,218.34 184.34,226.47 185.51,222.74 186.68,234.18 187.86,225.36 189.03,241.21 190.20,232.94 191.37,239.28 192.55,243.69 193.72,242.45 194.89,244.93 196.07,238.04 197.24,239.28 198.41,234.18 199.58,227.84 200.76,234.18 201.93,220.95 203.10,223.57 204.27,212.82 205.45,220.82 206.62,214.34 207.79,208.42 208.96,213.51 210.14,211.58 211.31,211.58 212.48,220.82 213.65,233.35 214.83,268.49" fill="none" stroke="#1f77b4" stroke-width="0.80" stroke-opacity="1.00" stroke-linejoin="round"/>
<rect x="23.50" y="162.20" width="200.50" height="112.30" fill="none" stroke="#666" stroke-width="1.0"/>
<line x1="32.40" y1="274.50" x2="32.40" y2="275.80" stroke="#444" stroke-width="0.6"/>
<text transform="translate(31.60,287.30) rotate(-45)" font-size="5.6" text-anchor="middle" dominant-baseline="central" fill="#222" textLength="19.8" lengthAdjust="spacingAndGlyphs">2020-01</text>
<line x1="52.67" y1="274.50" x2="52.67" y2="275.80" stroke="#444" stroke-width="0.6"/>
<text transform="translate(51.87,287.30) rotate(-45)" font-size="5.6" text-anchor="middle" dominant-baseline="central" fill="#222" textLength="19.8" lengthAdjust="spacingAndGlyphs">2020-05</text>
<line x1="73.27" y1="274.50" x2="73.27" y2="275.80" stroke="#444" stroke-width="0.6"/>
<text transform="translate(72.47,287.30) rotate(-45)" font-size="5.6" text-anchor="middle" dominant-baseline="central" fill="#222" textLength="19.8" lengthAdjust="spacingAndGlyphs">2020-09</text>
<line x1="93.71" y1="274.50" x2="93.71" y2="275.80" stroke="#444" stroke-width="0.6"/>
<text transform="translate(92.91,287.30) rotate(-45)" font-size="5.6" text-anchor="middle" dominant-baseline="central" fill="#222" textLength="19.8" lengthAdjust="spacingAndGlyphs">2021-01</text>
<line x1="113.81" y1="274.50" x2="113.81" y2="275.80" stroke="#444" stroke-width="0.6"/>
<text transform="translate(113.01,287.30) rotate(-45)" font-size="5.6" text-anchor="middle" dominant-baseline="central" fill="#222" textLength="19.8" lengthAdjust="spacingAndGlyphs">2021-05</text>
<line x1="134.42" y1="274.50" x2="134.42" y2="275.80" stroke="#444" stroke-width="0.6"/>
<text transform="translate(133.62,287.30) rotate(-45)" font-size="5.6" text-anchor="middle" dominant-baseline="central" fill="#222" textLength="19.8" lengthAdjust="spacingAndGlyphs">2021-09</text>
<line x1="154.86" y1="274.50" x2="154.86" y2="275.80" stroke="#444" stroke-width="0.6"/>
<text transform="translate(154.06,287.30) rotate(-45)" font-size="5.6" text-anchor="middle" dominant-baseline="central" fill="#222" textLength="19.8" lengthAdjust="spacingAndGlyphs">2022-01</text>
<line x1="174.96" y1="274.50" x2="174.96" y2="275.80" stroke="#444" stroke-width="0.6"/>
<text transform="translate(174.16,287.30) rotate(-45)" font-size="5.6" text-anchor="middle" dominant-baseline="central" fill="#222" textLength="19.8" lengthAdjust="spacingAndGlyphs">2022-05</text>
<line x1="195.56" y1="274.50" x2="195.56" y2="275.80" stroke="#444" stroke-width="0.6"/>
<text transform="translate(194.76,287.30) rotate(-45)" font-size="5.6" text-anchor="middle" dominant-baseline="central" fill="#222" textLength="19.8" lengthAdjust="spacingAndGlyphs">2022-09</text>
<line x1="216.00" y1="274.50" x2="216.00" y2="275.80" stroke="#444" stroke-width="0.6"/>
<text transform="translate(215.20,287.30) rotate(-45)" font-size="5.6" text-anchor="middle" dominant-baseline="central" fill="#222" textLength="19.8" lengthAdjust="spacingAndGlyphs">2023-01</text>
<line x1="22.20" y1="271.82" x2="23.50" y2="271.82" stroke="#444" stroke-width="0.6"/>
<text x="20.20" y="273.52" font-size="4.80" text-anchor="end" fill="#222" textLength="8.20" lengthAdjust="spacingAndGlyphs" >200</text>
<line x1="22.20" y1="257.76" x2="23.50" y2="257.76" stroke="#444" stroke-width="0.6"/>
<text x="20.20" y="259.46" font-size="4.80" text-anchor="end" fill="#222" textLength="8.20" lengthAdjust="spacingAndGlyphs" >300</text>
<line x1="22.20" y1="243.70" x2="23.50" y2="243.70" stroke="#444" stroke-width="0.6"/>
<text x="20.20" y="245.40" font-size="4.80" text-anchor="end" fill="#222" textLength="8.20" lengthAdjust="spacingAndGlyphs" >400</text>
<line x1="22.20" y1="229.64" x2="23.50" y2="229.64" stroke="#444" stroke-width="0.6"/>
<text x="20.20" y="231.34" font-size="4.80" text-anchor="end" fill="#222" textLength="8.20" lengthAdjust="spacingAndGlyphs" >500</text>
<line x1="22.20" y1="215.58" x2="23.50" y2="215.58" stroke="#444" stroke-width="0.6"/>
<text x="20.20" y="217.28" font-size="4.80" text-anchor="end" fill="#222" textLength="8.20" lengthAdjust="spacingAndGlyphs" >600</text>
<line x1="22.20" y1="201.52" x2="23.50" y2="201.52" stroke="#444" stroke-width="0.6"/>
<text x="20.20" y="203.22" font-size="4.80" text-anchor="end" fill="#222" textLength="8.20" lengthAdjust="spacingAndGlyphs" >700</text>
<line x1="22.20" y1="187.46" x2="23.50" y2="187.46" stroke="#444" stroke-width="0.6"/>
<text x="20.20" y="189.16" font-size="4.80" text-anchor="end" fill="#222" textLength="8.20" lengthAdjust="spacingAndGlyphs" >800</text>
<line x1="22.20" y1="173.40" x2="23.50" y2="173.40" stroke="#444" stroke-width="0.6"/>
<text x="20.20" y="175.10" font-size="4.80" text-anchor="end" fill="#222" textLength="8.20" lengthAdjust="spacingAndGlyphs" >900</text>
<text x="123.75" y="159.50" font-size="6.40" text-anchor="middle" fill="#222" textLength="34.20" lengthAdjust="spacingAndGlyphs" >SVR vs Real</text>
<text x="123.75" y="301.30" font-size="5.00" text-anchor="middle" fill="#222" textLength="11.20" lengthAdjust="spacingAndGlyphs" >Date</text>
<text transform="translate(8.00,218.35) rotate(-90)" font-size="4.3" text-anchor="middle" fill="#222" textLength="42.2" lengthAdjust="spacingAndGlyphs">Number of Cases</text>
</g>
<rect x="193.50" y="164.30" width="28.20" height="15.9" rx="1" fill="#fff" fill-opacity="0.8" stroke="#dcdcdc" stroke-width="0.5"/>
<line x1="194.80" y1="168.10" x2="205.20" y2="168.10" stroke="#000" stroke-width="1.2"/>
<line x1="194.80" y1="175.30" x2="205.20" y2="175.30" stroke="#1f77b4" stroke-width="0.8"/>
<text x="209.00" y="169.80" font-size="4.90" text-anchor="start" fill="#222" textLength="10.10" lengthAdjust="spacingAndGlyphs" >Real</text>
<text x="209.00" y="177.00" font-size="4.90" text-anchor="start" fill="#222" textLength="9.40" lengthAdjust="spacingAndGlyphs" >SVR</text>
<g>
<line x1="262.40" y1="162.20" x2="262.40" y2="274.50" stroke="#c8c8c8" stroke-width="0.7"/>
<line x1="282.67" y1="162.20" x2="282.67" y2="274.50" stroke="#c8c8c8" stroke-width="0.7"/>
<line x1="303.27" y1="162.20" x2="303.27" y2="274.50" stroke="#c8c8c8" stroke-width="0.7"/>
<line x1="323.71" y1="162.20" x2="323.71" y2="274.50" stroke="#c8c8c8" stroke-width="0.7"/>
<line x1="343.81" y1="162.20" x2="343.81" y2="274.50" stroke="#c8c8c8" stroke-width="0.7"/>
<line x1="364.42" y1="162.20" x2="364.42" y2="274.50" stroke="#c8c8c8" stroke-width="0.7"/>
<line x1="384.86" y1="162.20" x2="384.86" y2="274.50" stroke="#c8c8c8" stroke-width="0.7"/>
<line x1="404.96" y1="162.20" x2="404.96" y2="274.50" stroke="#c8c8c8" stroke-width="0.7"/>
<line x1="425.56" y1="162.20" x2="425.56" y2="274.50" stroke="#c8c8c8" stroke-width="0.7"/>
<line x1="446.00" y1="162.20" x2="446.00" y2="274.50" stroke="#c8c8c8" stroke-width="0.7"/>
<line x1="253.50" y1="271.40" x2="453.80" y2="271.40" stroke="#c8c8c8" stroke-width="0.7"/>
<line x1="253.50" y1="257.95" x2="453.80" y2="257.95" stroke="#c8c8c8" stroke-width="0.7"/>
<line x1="253.50" y1="244.50" x2="453.80" y2="244.50" stroke="#c8c8c8" stroke-width="0.7"/>
<line x1="253.50" y1="231.05" x2="453.80" y2="231.05" stroke="#c8c8c8" stroke-width="0.7"/>
<line x1="253.50" y1="217.60" x2="453.80" y2="217.60" stroke="#c8c8c8" stroke-width="0.7"/>
<line x1="253.50" y1="204.15" x2="453.80" y2="204.15" stroke="#c8c8c8" stroke-width="0.7"/>
<line x1="253.50" y1="190.70" x2="453.80" y2="190.70" stroke="#c8c8c8" stroke-width="0.7"/>
<line x1="253.50" y1="177.25" x2="453.80" y2="177.25" stroke="#c8c8c8" stroke-width="0.7"/>
<line x1="253.50" y1="163.80" x2="453.80" y2="163.80" stroke="#c8c8c8" stroke-width="0.7"/>
<polyline points="263.07,212.22 264.24,207.24 265.42,222.71 266.59,217.73 267.76,213.30 268.93,222.17 270.11,228.23 271.28,221.10 272.45,242.62 273.62,242.08 274.80,247.59 275.97,252.84 277.14,237.51 278.31,238.45 279.49,230.24 280.66,215.31 281.83,206.17 283.00,223.65 284.18,210.88 285.35,220.29 286.52,234.14 287.70,239.66 288.87,225.27 290.04,210.61 291.21,221.37 292.39,227.42 293.56,224.19 294.73,230.51 295.90,220.16 297.08,226.34 298.25,233.47 299.42,224.06 300.59,227.42 301.77,227.42 302.94,220.83 304.11,206.30 305.28,194.20 306.46,215.18 307.63,217.47 308.80,220.16 309.98,211.28 311.15,214.10 312.32,217.47 313.49,221.90 314.67,215.85 315.84,221.37 317.01,220.16 318.18,233.47 319.36,220.83 320.53,202.81 321.70,207.78 322.87,225.94 324.05,212.09 325.22,210.07 326.39,218.68 327.56,226.34 328.74,219.48 329.91,213.97 331.08,217.87 332.26,220.96 333.43,197.43 334.60,217.20 335.77,196.75 336.95,198.77 338.12,195.14 339.29,200.12 340.46,201.59 341.64,190.03 342.81,184.24 343.98,186.53 345.15,220.56 346.33,215.31 347.50,197.96 348.67,199.17 349.84,199.17 351.02,207.78 352.19,222.71 353.36,196.75 354.54,211.55 355.71,204.69 356.88,208.45 358.05,192.99 359.23,180.61 360.40,178.19 361.57,184.92 362.74,201.59 363.92,185.59 365.09,178.19 366.26,171.33 367.43,196.75 368.61,201.86 369.78,197.96 370.95,195.54 372.12,191.78 373.30,192.31 374.47,173.75 375.64,194.20 376.81,223.11 377.99,218.95 379.16,239.52 380.33,188.82 381.51,198.10 382.68,218.54 383.85,222.85 385.02,219.08 386.20,229.03 387.37,202.54 388.54,193.79 389.71,201.19 390.89,194.47 392.06,203.75 393.23,210.47 394.40,203.61 395.58,201.06 396.75,210.88 397.92,197.96 399.09,209.13 400.27,226.48 401.44,212.22 402.61,231.99 403.79,222.71 404.96,235.09 406.13,231.32 407.30,230.78 408.48,220.29 409.65,228.23 410.82,224.59 411.99,235.76 413.17,227.15 414.34,242.62 415.51,234.55 416.68,240.73 417.86,245.04 419.03,243.83 420.20,246.25 421.37,239.52 422.55,240.73 423.72,235.76 424.89,229.57 426.07,235.76 427.24,222.85 428.41,225.40 429.58,214.91 430.76,222.71 431.93,216.39 433.10,210.61 434.27,215.58 435.45,213.70 436.62,213.70 437.79,222.71 438.96,234.95 440.14,269.25 441.31,204.82 442.48,230.65 443.65,232.80 444.83,231.32" fill="none" stroke="#000" stroke-width="1.20" stroke-opacity="1.00" stroke-linejoin="round"/>
<polyline points="263.07,210.88 264.24,211.41 265.42,210.07 266.59,212.76 267.76,212.49 268.93,208.24 270.11,219.62 271.28,218.73 272.45,214.18 273.62,220.40 274.80,227.02 275.97,222.52 277.14,238.31 278.31,242.19 279.49,246.49 280.66,251.79 281.83,240.57 283.00,238.26 284.18,231.88 285.35,218.30 286.52,208.00 287.70,220.16 288.87,213.43 290.04,218.41 291.21,231.37 292.39,238.56 293.56,228.14 294.73,213.54 295.90,219.21 297.08,226.21 298.25,224.84 299.42,229.25 300.59,222.23 301.77,225.11 302.94,232.05 304.11,225.94 305.28,226.75 306.46,227.42 307.63,222.15 308.80,209.21 309.98,196.62 311.15,210.98 312.32,217.01 313.49,219.62 314.67,213.05 315.84,213.54 317.01,216.79 318.18,221.02 319.36,217.06 320.53,220.26 321.70,220.40 322.87,230.81 324.05,223.36 325.22,206.41 326.39,206.79 327.56,222.31 328.74,214.86 329.91,210.47 331.08,216.95 332.26,224.81 333.43,220.85 334.60,215.07 335.77,217.09 336.95,220.34 338.12,202.13 339.29,213.24 340.46,200.84 341.64,198.37 342.81,195.86 343.98,199.12 345.15,201.30 346.33,192.34 347.50,185.40 348.67,186.07 349.84,213.75 351.02,216.36 352.19,201.43 353.36,198.93 354.54,199.17 355.71,206.06 356.88,219.73 358.05,201.94 359.23,208.59 360.40,206.06 361.57,207.70 362.74,196.08 363.92,183.09 365.09,178.68 366.26,183.57 367.43,198.26 368.61,188.79 369.78,179.67 370.95,167.43 372.12,191.67 373.30,200.84 374.47,198.74 375.64,196.03 376.81,192.53 377.99,192.21 379.16,168.10 380.33,190.11 381.51,217.33 382.68,219.78 383.85,235.41 385.02,198.96 386.20,196.24 387.37,214.45 388.54,221.98 389.71,219.83 390.89,227.04 392.06,207.84 393.23,195.54 394.40,199.71 395.58,195.81 396.75,201.89 397.92,209.13 399.09,204.98 400.27,201.57 401.44,208.91 402.61,200.55 403.79,206.89 404.96,223.01 406.13,215.07 407.30,228.04 408.48,224.57 409.65,232.61 410.82,232.07 411.99,230.89 413.17,222.39 414.34,226.64 415.51,225.32 416.68,233.52 417.86,228.87 419.03,239.52 420.20,236.16 421.37,239.50 422.55,244.18 423.72,244.07 424.89,245.76 426.07,240.87 427.24,240.49 428.41,236.75 429.58,230.81 430.76,234.52 431.93,225.43 433.10,224.89 434.27,217.01 435.45,221.15 436.62,217.65 437.79,211.76 438.96,214.59 440.14,214.08 441.31,213.70 442.48,220.91 443.65,232.50 444.83,269.25" fill="none" stroke="#1f77b4" stroke-width="0.80" stroke-opacity="1.00" stroke-linejoin="round"/>
<rect x="253.50" y="162.20" width="200.30" height="112.30" fill="none" stroke="#666" stroke-width="1.0"/>
<line x1="262.40" y1="274.50" x2="262.40" y2="275.80" stroke="#444" stroke-width="0.6"/>
<text transform="translate(261.60,287.30) rotate(-45)" font-size="5.6" text-anchor="middle" dominant-baseline="central" fill="#222" textLength="19.8" lengthAdjust="spacingAndGlyphs">2020-01</text>
<line x1="282.67" y1="274.50" x2="282.67" y2="275.80" stroke="#444" stroke-width="0.6"/>
<text transform="translate(281.87,287.30) rotate(-45)" font-size="5.6" text-anchor="middle" dominant-baseline="central" fill="#222" textLength="19.8" lengthAdjust="spacingAndGlyphs">2020-05</text>
<line x1="303.27" y1="274.50" x2="303.27" y2="275.80" stroke="#444" stroke-width="0.6"/>
<text transform="translate(302.47,287.30) rotate(-45)" font-size="5.6" text-anchor="middle" dominant-baseline="central" fill="#222" textLength="19.8" lengthAdjust="spacingAndGlyphs">2020-09</text>
<line x1="323.71" y1="274.50" x2="323.71" y2="275.80" stroke="#444" stroke-width="0.6"/>
<text transform="translate(322.91,287.30) rotate(-45)" font-size="5.6" text-anchor="middle" dominant-baseline="central" fill="#222" textLength="19.8" lengthAdjust="spacingAndGlyphs">2021-01</text>
<line x1="343.81" y1="274.50" x2="343.81" y2="275.80" stroke="#444" stroke-width="0.6"/>
<text transform="translate(343.01,287.30) rotate(-45)" font-size="5.6" text-anchor="middle" dominant-baseline="central" fill="#222" textLength="19.8" lengthAdjust="spacingAndGlyphs">2021-05</text>
<line x1="364.42" y1="274.50" x2="364.42" y2="275.80" stroke="#444" stroke-width="0.6"/>
<text transform="translate(363.62,287.30) rotate(-45)" font-size="5.6" text-anchor="middle" dominant-baseline="central" fill="#222" textLength="19.8" lengthAdjust="spacingAndGlyphs">2021-09</text>
<line x1="384.86" y1="274.50" x2="384.86" y2="275.80" stroke="#444" stroke-width="0.6"/>
<text transform="translate(384.06,287.30) rotate(-45)" font-size="5.6" text-anchor="middle" dominant-baseline="central" fill="#222" textLength="19.8" lengthAdjust="spacingAndGlyphs">2022-01</text>
<line x1="404.96" y1="274.50" x2="404.96" y2="275.80" stroke="#444" stroke-width="0.6"/>
<text transform="translate(404.16,287.30) rotate(-45)" font-size="5.6" text-anchor="middle" dominant-baseline="central" fill="#222" textLength="19.8" lengthAdjust="spacingAndGlyphs">2022-05</text>
<line x1="425.56" y1="274.50" x2="425.56" y2="275.80" stroke="#444" stroke-width="0.6"/>
<text transform="translate(424.76,287.30) rotate(-45)" font-size="5.6" text-anchor="middle" dominant-baseline="central" fill="#222" textLength="19.8" lengthAdjust="spacingAndGlyphs">2022-09</text>
<line x1="446.00" y1="274.50" x2="446.00" y2="275.80" stroke="#444" stroke-width="0.6"/>
<text transform="translate(445.20,287.30) rotate(-45)" font-size="5.6" text-anchor="middle" dominant-baseline="central" fill="#222" textLength="19.8" lengthAdjust="spacingAndGlyphs">2023-01</text>
<line x1="252.20" y1="271.40" x2="253.50" y2="271.40" stroke="#444" stroke-width="0.6"/>
<text x="250.20" y="273.10" font-size="4.80" text-anchor="end" fill="#222" textLength="8.20" lengthAdjust="spacingAndGlyphs" >200</text>
<line x1="252.20" y1="257.95" x2="253.50" y2="257.95" stroke="#444" stroke-width="0.6"/>
<text x="250.20" y="259.65" font-size="4.80" text-anchor="end" fill="#222" textLength="8.20" lengthAdjust="spacingAndGlyphs" >300</text>
<line x1="252.20" y1="244.50" x2="253.50" y2="244.50" stroke="#444" stroke-width="0.6"/>
<text x="250.20" y="246.20" font-size="4.80" text-anchor="end" fill="#222" textLength="8.20" lengthAdjust="spacingAndGlyphs" >400</text>
<line x1="252.20" y1="231.05" x2="253.50" y2="231.05" stroke="#444" stroke-width="0.6"/>
<text x="250.20" y="232.75" font-size="4.80" text-anchor="end" fill="#222" textLength="8.20" lengthAdjust="spacingAndGlyphs" >500</text>
<line x1="252.20" y1="217.60" x2="253.50" y2="217.60" stroke="#444" stroke-width="0.6"/>
<text x="250.20" y="219.30" font-size="4.80" text-anchor="end" fill="#222" textLength="8.20" lengthAdjust="spacingAndGlyphs" >600</text>
<line x1="252.20" y1="204.15" x2="253.50" y2="204.15" stroke="#444" stroke-width="0.6"/>
<text x="250.20" y="205.85" font-size="4.80" text-anchor="end" fill="#222" textLength="8.20" lengthAdjust="spacingAndGlyphs" >700</text>
<line x1="252.20" y1="190.70" x2="253.50" y2="190.70" stroke="#444" stroke-width="0.6"/>
<text x="250.20" y="192.40" font-size="4.80" text-anchor="end" fill="#222" textLength="8.20" lengthAdjust="spacingAndGlyphs" >800</text>
<line x1="252.20" y1="177.25" x2="253.50" y2="177.25" stroke="#444" stroke-width="0.6"/>
<text x="250.20" y="178.95" font-size="4.80" text-anchor="end" fill="#222" textLength="8.20" lengthAdjust="spacingAndGlyphs" >900</text>
<line x1="252.20" y1="163.80" x2="253.50" y2="163.80" stroke="#444" stroke-width="0.6"/>
<text x="250.20" y="165.50" font-size="4.80" text-anchor="end" fill="#222" textLength="10.90" lengthAdjust="spacingAndGlyphs" >1000</text>
<text x="353.65" y="159.50" font-size="6.40" text-anchor="middle" fill="#222" textLength="47.00" lengthAdjust="spacingAndGlyphs" >XGBoost vs Real</text>
<text x="353.65" y="301.30" font-size="5.00" text-anchor="middle" fill="#222" textLength="11.20" lengthAdjust="spacingAndGlyphs" >Date</text>
<text transform="translate(234.40,218.35) rotate(-90)" font-size="4.3" text-anchor="middle" fill="#222" textLength="42.2" lengthAdjust="spacingAndGlyphs">Number of Cases</text>
</g>
<rect x="413.60" y="164.30" width="37.60" height="15.9" rx="1" fill="#fff" fill-opacity="0.8" stroke="#dcdcdc" stroke-width="0.5"/>
<line x1="414.90" y1="168.10" x2="425.30" y2="168.10" stroke="#000" stroke-width="1.2"/>
<line x1="414.90" y1="175.30" x2="425.30" y2="175.30" stroke="#1f77b4" stroke-width="0.8"/>
<text x="429.10" y="169.80" font-size="4.90" text-anchor="start" fill="#222" textLength="10.10" lengthAdjust="spacingAndGlyphs" >Real</text>
<text x="429.10" y="177.00" font-size="4.90" text-anchor="start" fill="#222" textLength="20.30" lengthAdjust="spacingAndGlyphs" >XGBoost</text>
<g>
<line x1="492.60" y1="162.20" x2="492.60" y2="274.50" stroke="#c8c8c8" stroke-width="0.7"/>
<line x1="512.87" y1="162.20" x2="512.87" y2="274.50" stroke="#c8c8c8" stroke-width="0.7"/>
<line x1="533.47" y1="162.20" x2="533.47" y2="274.50" stroke="#c8c8c8" stroke-width="0.7"/>
<line x1="553.91" y1="162.20" x2="553.91" y2="274.50" stroke="#c8c8c8" stroke-width="0.7"/>
<line x1="574.01" y1="162.20" x2="574.01" y2="274.50" stroke="#c8c8c8" stroke-width="0.7"/>
<line x1="594.62" y1="162.20" x2="594.62" y2="274.50" stroke="#c8c8c8" stroke-width="0.7"/>
<line x1="615.06" y1="162.20" x2="615.06" y2="274.50" stroke="#c8c8c8" stroke-width="0.7"/>
<line x1="635.16" y1="162.20" x2="635.16" y2="274.50" stroke="#c8c8c8" stroke-width="0.7"/>
<line x1="655.76" y1="162.20" x2="655.76" y2="274.50" stroke="#c8c8c8" stroke-width="0.7"/>
<line x1="676.20" y1="162.20" x2="676.20" y2="274.50" stroke="#c8c8c8" stroke-width="0.7"/>
<line x1="483.70" y1="271.82" x2="683.50" y2="271.82" stroke="#c8c8c8" stroke-width="0.7"/>
<line x1="483.70" y1="257.76" x2="683.50" y2="257.76" stroke="#c8c8c8" stroke-width="0.7"/>
<line x1="483.70" y1="243.70" x2="683.50" y2="243.70" stroke="#c8c8c8" stroke-width="0.7"/>
<line x1="483.70" y1="229.64" x2="683.50" y2="229.64" stroke="#c8c8c8" stroke-width="0.7"/>
<line x1="483.70" y1="215.58" x2="683.50" y2="215.58" stroke="#c8c8c8" stroke-width="0.7"/>
<line x1="483.70" y1="201.52" x2="683.50" y2="201.52" stroke="#c8c8c8" stroke-width="0.7"/>
<line x1="483.70" y1="187.46" x2="683.50" y2="187.46" stroke="#c8c8c8" stroke-width="0.7"/>
<line x1="483.70" y1="173.40" x2="683.50" y2="173.40" stroke="#c8c8c8" stroke-width="0.7"/>
<polyline points="493.27,209.96 494.44,204.75 495.62,220.92 496.79,215.72 497.96,211.08 499.13,220.36 500.31,226.69 501.48,219.24 502.65,241.73 503.82,241.17 505.00,246.93 506.17,252.42 507.34,236.39 508.51,237.37 509.69,228.80 510.86,213.19 512.03,203.63 513.20,221.91 514.38,208.55 515.55,218.39 516.72,232.87 517.90,238.64 519.07,223.59 520.24,208.27 521.41,219.52 522.59,225.84 523.76,222.47 524.93,229.08 526.10,218.25 527.28,224.72 528.45,232.17 529.62,222.33 530.79,225.84 531.97,225.84 533.14,218.95 534.31,203.77 535.48,191.12 536.66,213.05 537.83,215.44 539.00,218.25 540.18,208.97 541.35,211.92 542.52,215.44 543.69,220.08 544.87,213.75 546.04,219.52 547.21,218.25 548.38,232.17 549.56,218.95 550.73,200.11 551.90,205.32 553.07,224.30 554.25,209.82 555.42,207.71 556.59,216.70 557.76,224.72 558.94,217.55 560.11,211.78 561.28,215.86 562.46,219.09 563.63,194.49 564.80,215.16 565.97,193.79 567.15,195.90 568.32,192.10 569.49,197.30 570.66,198.85 571.84,186.76 573.01,180.71 574.18,183.10 575.35,218.67 576.53,213.19 577.70,195.05 578.87,196.32 580.04,196.32 581.22,205.32 582.39,220.92 583.56,193.79 584.74,209.25 585.91,202.08 587.08,206.02 588.25,189.85 589.43,176.91 590.60,174.38 591.77,181.41 592.94,198.85 594.12,182.12 595.29,174.38 596.46,167.21 597.63,193.79 598.81,199.13 599.98,195.05 601.15,192.52 602.32,188.58 603.50,189.15 604.67,169.74 605.84,191.12 607.01,221.34 608.19,216.99 609.36,238.50 610.53,185.49 611.71,195.19 612.88,216.56 614.05,221.06 615.22,217.13 616.40,227.53 617.57,199.83 618.74,190.69 619.91,198.43 621.09,191.40 622.26,201.10 623.43,208.13 624.60,200.96 625.78,198.29 626.95,208.55 628.12,195.05 629.29,206.72 630.47,224.86 631.64,209.96 632.81,230.62 633.99,220.92 635.16,233.86 636.33,229.92 637.50,229.36 638.68,218.39 639.85,226.69 641.02,222.89 642.19,234.56 643.37,225.56 644.54,241.73 645.71,233.30 646.88,239.76 648.06,244.26 649.23,243.00 650.40,245.53 651.57,238.50 652.75,239.76 653.92,234.56 655.09,228.09 656.27,234.56 657.44,221.06 658.61,223.73 659.78,212.77 660.96,220.92 662.13,214.31 663.30,208.27 664.47,213.47 665.65,211.50 666.82,211.50 667.99,220.92 669.16,233.72 670.34,269.57 671.51,202.22 672.68,229.22 673.85,231.47 675.03,229.92" fill="none" stroke="#000" stroke-width="1.20" stroke-opacity="1.00" stroke-linejoin="round"/>
<polyline points="493.27,219.81 494.44,209.55 495.62,211.18 496.79,209.58 497.96,212.33 499.13,211.74 500.31,207.86 501.48,218.98 502.65,216.85 503.82,212.99 505.00,219.20 506.17,224.69 507.34,219.96 508.51,235.41 509.69,237.25 510.86,241.35 512.03,245.87 513.20,234.88 514.38,233.98 515.55,227.91 516.72,215.81 517.90,207.37 519.07,219.57 520.24,211.78 521.41,217.53 522.59,228.95 523.76,234.54 524.93,224.29 526.10,211.75 527.28,218.32 528.45,224.00 529.62,222.20 530.79,226.62 531.97,219.49 533.14,223.06 534.31,229.07 535.48,222.73 536.66,224.28 537.83,224.63 539.00,219.67 540.18,208.05 541.35,197.42 542.52,211.94 543.69,215.86 544.87,218.12 546.04,211.72 547.21,212.92 548.38,215.75 549.56,219.44 550.73,215.35 551.90,218.86 553.07,218.53 554.25,228.43 555.42,220.30 556.59,205.41 557.76,207.28 558.94,221.46 560.11,212.93 561.28,209.97 562.46,216.24 563.63,222.91 564.80,218.54 565.97,213.68 567.15,216.04 568.32,218.77 569.49,201.38 570.66,213.80 571.84,200.48 573.01,199.86 574.18,197.34 575.35,200.70 576.53,202.34 577.70,193.79 578.87,188.22 580.04,189.34 581.22,215.19 582.39,214.80 583.56,201.19 584.74,200.29 585.91,200.42 587.08,206.90 588.25,219.03 589.43,201.06 590.60,209.48 591.77,205.86 592.94,207.98 594.12,196.73 595.29,185.80 596.46,182.69 597.63,187.49 598.81,200.75 599.98,190.45 601.15,183.21 602.32,177.27 603.50,195.69 604.67,202.19 605.84,199.79 607.01,197.56 608.19,194.47 609.36,194.48 610.53,180.57 611.71,194.01 612.88,217.92 614.05,217.80 615.22,232.85 616.40,196.84 617.57,198.53 618.74,214.88 619.91,220.26 621.09,217.87 622.26,224.97 623.43,206.07 624.60,196.72 625.78,201.37 626.95,197.09 628.12,203.37 629.29,209.40 630.47,204.94 631.64,202.30 632.81,209.42 633.99,200.73 635.16,207.78 636.33,222.01 637.50,213.09 638.68,226.48 639.85,221.56 641.02,229.91 642.19,228.37 643.37,227.57 644.54,219.62 645.71,224.49 646.88,222.59 648.06,230.61 649.23,225.30 650.40,236.04 651.57,231.58 652.75,235.40 653.92,239.28 655.09,238.82 656.27,240.52 657.44,235.71 658.61,235.92 659.78,232.30 660.96,227.12 662.13,231.13 663.30,222.06 664.47,222.63 665.65,215.00 666.82,219.78 667.99,215.84 669.16,210.82 670.34,213.96 671.51,213.07 672.68,212.87 673.85,219.65 675.03,233.86" fill="none" stroke="#1f77b4" stroke-width="0.80" stroke-opacity="1.00" stroke-linejoin="round"/>
<rect x="483.70" y="162.20" width="199.80" height="112.30" fill="none" stroke="#666" stroke-width="1.0"/>
<line x1="492.60" y1="274.50" x2="492.60" y2="275.80" stroke="#444" stroke-width="0.6"/>
<text transform="translate(491.80,287.30) rotate(-45)" font-size="5.6" text-anchor="middle" dominant-baseline="central" fill="#222" textLength="19.8" lengthAdjust="spacingAndGlyphs">2020-01</text>
<line x1="512.87" y1="274.50" x2="512.87" y2="275.80" stroke="#444" stroke-width="0.6"/>
<text transform="translate(512.07,287.30) rotate(-45)" font-size="5.6" text-anchor="middle" dominant-baseline="central" fill="#222" textLength="19.8" lengthAdjust="spacingAndGlyphs">2020-05</text>
<line x1="533.47" y1="274.50" x2="533.47" y2="275.80" stroke="#444" stroke-width="0.6"/>
<text transform="translate(532.67,287.30) rotate(-45)" font-size="5.6" text-anchor="middle" dominant-baseline="central" fill="#222" textLength="19.8" lengthAdjust="spacingAndGlyphs">2020-09</text>
<line x1="553.91" y1="274.50" x2="553.91" y2="275.80" stroke="#444" stroke-width="0.6"/>
<text transform="translate(553.11,287.30) rotate(-45)" font-size="5.6" text-anchor="middle" dominant-baseline="central" fill="#222" textLength="19.8" lengthAdjust="spacingAndGlyphs">2021-01</text>
<line x1="574.01" y1="274.50" x2="574.01" y2="275.80" stroke="#444" stroke-width="0.6"/>
<text transform="translate(573.21,287.30) rotate(-45)" font-size="5.6" text-anchor="middle" dominant-baseline="central" fill="#222" textLength="19.8" lengthAdjust="spacingAndGlyphs">2021-05</text>
<line x1="594.62" y1="274.50" x2="594.62" y2="275.80" stroke="#444" stroke-width="0.6"/>
<text transform="translate(593.82,287.30) rotate(-45)" font-size="5.6" text-anchor="middle" dominant-baseline="central" fill="#222" textLength="19.8" lengthAdjust="spacingAndGlyphs">2021-09</text>
<line x1="615.06" y1="274.50" x2="615.06" y2="275.80" stroke="#444" stroke-width="0.6"/>
<text transform="translate(614.26,287.30) rotate(-45)" font-size="5.6" text-anchor="middle" dominant-baseline="central" fill="#222" textLength="19.8" lengthAdjust="spacingAndGlyphs">2022-01</text>
<line x1="635.16" y1="274.50" x2="635.16" y2="275.80" stroke="#444" stroke-width="0.6"/>
<text transform="translate(634.36,287.30) rotate(-45)" font-size="5.6" text-anchor="middle" dominant-baseline="central" fill="#222" textLength="19.8" lengthAdjust="spacingAndGlyphs">2022-05</text>
<line x1="655.76" y1="274.50" x2="655.76" y2="275.80" stroke="#444" stroke-width="0.6"/>
<text transform="translate(654.96,287.30) rotate(-45)" font-size="5.6" text-anchor="middle" dominant-baseline="central" fill="#222" textLength="19.8" lengthAdjust="spacingAndGlyphs">2022-09</text>
<line x1="676.20" y1="274.50" x2="676.20" y2="275.80" stroke="#444" stroke-width="0.6"/>
<text transform="translate(675.40,287.30) rotate(-45)" font-size="5.6" text-anchor="middle" dominant-baseline="central" fill="#222" textLength="19.8" lengthAdjust="spacingAndGlyphs">2023-01</text>
<line x1="482.40" y1="271.82" x2="483.70" y2="271.82" stroke="#444" stroke-width="0.6"/>
<text x="480.40" y="273.52" font-size="4.80" text-anchor="end" fill="#222" textLength="8.20" lengthAdjust="spacingAndGlyphs" >200</text>
<line x1="482.40" y1="257.76" x2="483.70" y2="257.76" stroke="#444" stroke-width="0.6"/>
<text x="480.40" y="259.46" font-size="4.80" text-anchor="end" fill="#222" textLength="8.20" lengthAdjust="spacingAndGlyphs" >300</text>
<line x1="482.40" y1="243.70" x2="483.70" y2="243.70" stroke="#444" stroke-width="0.6"/>
<text x="480.40" y="245.40" font-size="4.80" text-anchor="end" fill="#222" textLength="8.20" lengthAdjust="spacingAndGlyphs" >400</text>
<line x1="482.40" y1="229.64" x2="483.70" y2="229.64" stroke="#444" stroke-width="0.6"/>
<text x="480.40" y="231.34" font-size="4.80" text-anchor="end" fill="#222" textLength="8.20" lengthAdjust="spacingAndGlyphs" >500</text>
<line x1="482.40" y1="215.58" x2="483.70" y2="215.58" stroke="#444" stroke-width="0.6"/>
<text x="480.40" y="217.28" font-size="4.80" text-anchor="end" fill="#222" textLength="8.20" lengthAdjust="spacingAndGlyphs" >600</text>
<line x1="482.40" y1="201.52" x2="483.70" y2="201.52" stroke="#444" stroke-width="0.6"/>
<text x="480.40" y="203.22" font-size="4.80" text-anchor="end" fill="#222" textLength="8.20" lengthAdjust="spacingAndGlyphs" >700</text>
<line x1="482.40" y1="187.46" x2="483.70" y2="187.46" stroke="#444" stroke-width="0.6"/>
<text x="480.40" y="189.16" font-size="4.80" text-anchor="end" fill="#222" textLength="8.20" lengthAdjust="spacingAndGlyphs" >800</text>
<line x1="482.40" y1="173.40" x2="483.70" y2="173.40" stroke="#444" stroke-width="0.6"/>
<text x="480.40" y="175.10" font-size="4.80" text-anchor="end" fill="#222" textLength="8.20" lengthAdjust="spacingAndGlyphs" >900</text>
<text x="583.60" y="159.50" font-size="6.40" text-anchor="middle" fill="#222" textLength="41.20" lengthAdjust="spacingAndGlyphs" >ARIMA vs Real</text>
<text x="583.60" y="301.30" font-size="5.00" text-anchor="middle" fill="#222" textLength="11.20" lengthAdjust="spacingAndGlyphs" >Date</text>
<text transform="translate(468.20,218.35) rotate(-90)" font-size="4.3" text-anchor="middle" fill="#222" textLength="42.2" lengthAdjust="spacingAndGlyphs">Number of Cases</text>
</g>
<rect x="648.40" y="164.30" width="33.00" height="15.9" rx="1" fill="#fff" fill-opacity="0.8" stroke="#dcdcdc" stroke-width="0.5"/>
<line x1="649.70" y1="168.10" x2="660.10" y2="168.10" stroke="#000" stroke-width="1.2"/>
<line x1="649.70" y1="175.30" x2="660.10" y2="175.30" stroke="#1f77b4" stroke-width="0.8"/>
<text x="663.90" y="169.80" font-size="4.90" text-anchor="start" fill="#222" textLength="10.10" lengthAdjust="spacingAndGlyphs" >Real</text>
<text x="663.90" y="177.00" font-size="4.90" text-anchor="start" fill="#222" textLength="15.00" lengthAdjust="spacingAndGlyphs" >ARIMA</text>
<g>
<line x1="51.30" y1="315.20" x2="51.30" y2="483.50" stroke="#c8c8c8" stroke-width="0.7"/>
<line x1="118.11" y1="315.20" x2="118.11" y2="483.50" stroke="#c8c8c8" stroke-width="0.7"/>
<line x1="186.03" y1="315.20" x2="186.03" y2="483.50" stroke="#c8c8c8" stroke-width="0.7"/>
<line x1="253.40" y1="315.20" x2="253.40" y2="483.50" stroke="#c8c8c8" stroke-width="0.7"/>
<line x1="319.66" y1="315.20" x2="319.66" y2="483.50" stroke="#c8c8c8" stroke-width="0.7"/>
<line x1="387.58" y1="315.20" x2="387.58" y2="483.50" stroke="#c8c8c8" stroke-width="0.7"/>
<line x1="454.95" y1="315.20" x2="454.95" y2="483.50" stroke="#c8c8c8" stroke-width="0.7"/>
<line x1="521.21" y1="315.20" x2="521.21" y2="483.50" stroke="#c8c8c8" stroke-width="0.7"/>
<line x1="589.13" y1="315.20" x2="589.13" y2="483.50" stroke="#c8c8c8" stroke-width="0.7"/>
<line x1="656.50" y1="315.20" x2="656.50" y2="483.50" stroke="#c8c8c8" stroke-width="0.7"/>
<line x1="23.70" y1="479.56" x2="683.30" y2="479.56" stroke="#c8c8c8" stroke-width="0.7"/>
<line x1="23.70" y1="459.29" x2="683.30" y2="459.29" stroke="#c8c8c8" stroke-width="0.7"/>
<line x1="23.70" y1="439.02" x2="683.30" y2="439.02" stroke="#c8c8c8" stroke-width="0.7"/>
<line x1="23.70" y1="418.75" x2="683.30" y2="418.75" stroke="#c8c8c8" stroke-width="0.7"/>
<line x1="23.70" y1="398.48" x2="683.30" y2="398.48" stroke="#c8c8c8" stroke-width="0.7"/>
<line x1="23.70" y1="378.21" x2="683.30" y2="378.21" stroke="#c8c8c8" stroke-width="0.7"/>
<line x1="23.70" y1="357.94" x2="683.30" y2="357.94" stroke="#c8c8c8" stroke-width="0.7"/>
<line x1="23.70" y1="337.67" x2="683.30" y2="337.67" stroke="#c8c8c8" stroke-width="0.7"/>
<line x1="23.70" y1="317.40" x2="683.30" y2="317.40" stroke="#c8c8c8" stroke-width="0.7"/>
<polyline points="53.51,390.37 57.37,382.87 61.24,406.18 65.10,398.68 68.97,391.99 72.84,405.37 76.70,414.49 80.57,403.75 84.43,436.18 88.30,435.37 92.16,443.68 96.03,451.59 99.89,428.48 103.76,429.90 107.62,417.53 111.49,395.03 115.35,381.25 119.22,407.60 123.08,388.34 126.95,402.53 130.82,423.41 134.68,431.72 138.55,410.03 142.41,387.94 146.28,404.16 150.14,413.28 154.01,408.41 157.87,417.94 161.74,402.33 165.60,411.66 169.47,422.40 173.33,408.21 177.20,413.28 181.06,413.28 184.93,403.34 188.80,381.45 192.66,363.21 196.53,394.83 200.39,398.28 204.26,402.33 208.12,388.95 211.99,393.21 215.85,398.28 219.72,404.97 223.58,395.84 227.45,404.16 231.31,402.33 235.18,422.40 239.04,403.34 242.91,376.18 246.78,383.68 250.64,411.05 254.51,390.17 258.37,387.13 262.24,400.10 266.10,411.66 269.97,401.32 273.83,393.01 277.70,398.89 281.56,403.55 285.43,368.07 289.29,397.87 293.16,367.06 297.02,370.10 300.89,364.63 304.76,372.13 308.62,374.36 312.49,356.93 316.35,348.21 320.22,351.66 324.08,402.94 327.95,395.03 331.81,368.89 335.68,370.71 339.54,370.71 343.41,383.68 347.27,406.18 351.14,367.06 355.00,389.36 358.87,379.02 362.74,384.70 366.60,361.39 370.47,342.74 374.33,339.09 378.20,349.22 382.06,374.36 385.93,350.24 389.79,339.09 393.66,328.75 397.52,367.06 401.39,374.76 405.25,368.89 409.12,365.24 412.98,359.56 416.85,360.37 420.71,332.40 424.58,363.21 428.45,406.79 432.31,400.51 436.18,431.52 440.04,355.10 443.91,369.09 447.77,399.90 451.64,406.39 455.50,400.71 459.37,415.71 463.23,375.78 467.10,362.60 470.96,373.75 474.83,363.62 478.69,377.60 482.56,387.74 486.43,377.40 490.29,373.55 494.16,388.34 498.02,368.89 501.89,385.71 505.75,411.86 509.62,390.37 513.48,420.17 517.35,406.18 521.21,424.83 525.08,419.16 528.94,418.34 532.81,402.53 536.67,414.49 540.54,409.02 544.41,425.84 548.27,412.87 552.14,436.18 556.00,424.02 559.87,433.34 563.73,439.83 567.60,438.01 571.46,441.66 575.33,431.52 579.19,433.34 583.06,425.84 586.92,416.52 590.79,425.84 594.65,406.39 598.52,410.24 602.39,394.43 606.25,406.18 610.12,396.66 613.98,387.94 617.85,395.44 621.71,392.60 625.58,392.60 629.44,406.18 633.31,424.63 637.17,476.32 641.04,379.22 644.90,418.14 648.77,421.39 652.63,419.16" fill="none" stroke="#000" stroke-width="1.15" stroke-opacity="1.00" stroke-linejoin="round"/>
<polyline points="53.51,391.49 57.37,390.87 61.24,386.47 65.10,397.31 68.97,398.07 72.84,394.73 76.70,400.58 80.57,408.23 84.43,405.77 88.30,422.50 92.16,429.58 96.03,437.33 99.89,445.17 103.76,435.99 107.62,432.64 111.49,424.33 115.35,408.22 119.22,393.39 123.08,401.20 126.95,394.13 130.82,398.75 134.68,412.32 138.55,422.99 142.41,415.86 146.28,400.51 150.14,402.51 154.01,408.43 157.87,408.42 161.74,413.66 165.60,407.43 169.47,409.75 173.33,416.71 177.20,412.03 181.06,412.72 184.93,413.03 188.80,407.70 192.66,393.26 196.53,376.73 200.39,386.69 204.26,393.06 208.12,398.16 211.99,393.10 215.85,393.16 219.72,395.97 223.58,400.92 227.45,398.13 231.31,401.44 235.18,401.93 239.04,413.19 242.91,407.77 246.78,390.40 250.64,386.71 254.51,400.09 258.37,394.64 262.24,390.51 266.10,395.78 269.97,404.51 273.83,402.76 277.70,397.39 281.56,398.21 285.43,401.15 289.29,382.96 293.16,391.16 297.02,377.91 300.89,373.61 304.76,368.67 308.62,370.57 312.49,372.66 316.35,364.00 320.22,355.32 324.08,353.30 327.95,380.60 331.81,388.54 335.68,377.73 339.54,373.87 343.41,372.13 347.27,378.48 351.14,393.72 355.00,379.06 358.87,384.72 362.74,381.59 366.60,383.30 370.47,371.25 374.33,355.57 378.20,346.50 382.06,348.00 385.93,362.50 389.79,355.75 393.66,346.59 397.52,336.78 401.39,353.43 405.25,365.17 409.12,367.21 412.98,366.13 416.85,362.52 420.71,361.34 424.58,345.42 428.45,355.21 432.31,383.58 436.18,392.89 440.04,414.14 443.91,381.67 447.77,374.75 451.64,388.58 455.50,398.37 459.37,399.66 463.23,408.49 467.10,390.50 470.96,375.15 474.83,374.38 478.69,368.46 482.56,373.49 486.43,381.33 490.29,379.17 494.16,376.08 498.02,382.82 501.89,375.16 505.75,380.96 509.62,397.95 513.48,393.78 517.35,408.30 521.21,407.13 525.08,416.87 528.94,418.13 532.81,418.25 536.67,409.60 540.54,412.29 544.41,410.49 548.27,418.94 552.14,415.60 556.00,426.92 559.87,425.33 563.73,429.74 567.60,435.29 571.46,436.78 575.33,439.46 579.19,435.09 583.06,434.13 586.92,429.57 590.79,422.39 594.65,424.29 598.52,414.44 602.39,412.13 606.25,402.39 610.12,404.48 613.98,400.18 617.85,393.45 621.71,394.54 625.58,393.47 629.44,392.99 633.31,400.25 637.17,413.66 641.04,448.12 644.90,410.23 648.77,414.58 652.63,418.32" fill="none" stroke="#1f77b4" stroke-width="0.85" stroke-opacity="1.00" stroke-linejoin="round"/>
<polyline points="53.51,391.73 57.37,390.82 61.24,385.49 65.10,399.36 68.97,398.90 72.84,394.27 76.70,401.71 80.57,410.27 84.43,405.90 88.30,426.19 92.16,432.34 96.03,439.94 99.89,447.74 103.76,434.84 107.62,431.53 111.49,422.15 115.35,403.98 119.22,388.75 123.08,401.38 126.95,392.65 130.82,399.27 134.68,415.45 138.55,426.35 142.41,415.42 146.28,397.01 150.14,401.80 154.01,409.49 157.87,408.77 161.74,414.91 165.60,406.48 169.47,409.95 173.33,418.29 177.20,411.54 181.06,412.70 184.93,413.09 188.80,406.56 192.66,389.74 196.53,371.96 200.39,387.29 204.26,394.65 208.12,399.80 211.99,392.53 215.85,392.99 219.72,396.53 223.58,402.18 227.45,397.94 231.31,402.10 235.18,402.26 239.04,415.75 242.91,407.44 246.78,386.50 250.64,384.61 254.51,402.32 258.37,394.18 262.24,389.46 266.10,396.59 269.97,406.68 273.83,403.09 277.70,396.33 281.56,398.04 285.43,401.73 289.29,379.18 293.16,391.70 297.02,375.19 300.89,371.78 304.76,366.99 308.62,370.43 312.49,373.06 316.35,362.25 320.22,352.84 324.08,352.05 327.95,386.15 331.81,392.10 335.68,376.55 339.54,372.64 343.41,371.35 347.27,379.61 351.14,397.41 355.00,377.08 358.87,385.31 362.74,381.09 366.60,383.51 370.47,368.69 374.33,351.30 378.20,343.12 382.06,347.21 385.93,365.40 389.79,355.24 393.66,344.42 397.52,333.92 401.39,356.13 405.25,368.61 409.12,368.80 412.98,366.41 416.85,361.82 420.71,360.85 424.58,341.79 428.45,356.14 432.31,390.08 436.18,397.06 440.04,420.15 443.91,376.57 447.77,371.56 451.64,390.55 455.50,401.16 459.37,400.86 463.23,410.81 467.10,387.34 470.96,370.76 474.83,372.77 478.69,366.64 482.56,373.98 486.43,383.20 490.29,379.31 494.16,375.45 498.02,384.09 501.89,373.90 505.75,381.81 509.62,401.94 513.48,394.19 517.35,411.60 521.21,407.97 525.08,419.27 528.94,419.19 532.81,418.62 536.67,407.84 540.54,412.30 544.41,410.10 548.27,420.65 552.14,415.44 556.00,429.34 559.87,425.77 563.73,430.85 567.60,436.87 571.46,437.63 575.33,440.33 579.19,434.43 583.06,433.70 586.92,428.44 590.79,420.45 594.65,424.07 598.52,412.22 602.39,410.89 606.25,399.86 610.12,404.10 613.98,399.11 617.85,391.63 621.71,394.18 625.58,393.12 629.44,392.77 633.31,401.76 637.17,417.08 641.04,456.77 644.90,404.81 648.77,413.74 652.63,418.86" fill="none" stroke="#ff7f0e" stroke-width="0.85" stroke-opacity="1.00" stroke-linejoin="round"/>
<polyline points="53.51,385.71 57.37,389.95 61.24,386.60 65.10,391.97 68.97,390.51 72.84,383.40 76.70,404.55 80.57,399.21 84.43,392.46 88.30,404.44 92.16,413.85 96.03,404.50 99.89,433.91 103.76,435.43 107.62,443.10 111.49,451.03 115.35,430.10 119.22,429.80 123.08,418.40 126.95,396.61 130.82,382.22 134.68,405.76 138.55,389.69 142.41,401.54 146.28,421.95 150.14,431.14 154.01,411.55 157.87,389.49 161.74,403.02 165.60,412.64 169.47,408.75 173.33,417.27 177.20,403.42 181.06,411.00 184.93,421.65 188.80,409.20 192.66,412.92 196.53,413.28 200.39,404.04 204.26,382.99 208.12,364.49 211.99,392.62 215.85,398.04 219.72,402.05 223.58,389.89 227.45,392.91 231.31,397.92 235.18,404.50 239.04,396.48 242.91,403.57 246.78,402.46 250.64,420.99 254.51,404.68 258.37,378.08 262.24,383.16 266.10,409.13 269.97,391.63 273.83,387.34 277.70,399.19 281.56,410.85 285.43,402.04 289.29,393.59 293.16,398.47 297.02,403.22 300.89,370.56 304.76,395.79 308.62,369.22 312.49,369.89 316.35,365.01 320.22,371.60 324.08,374.20 327.95,358.15 331.81,348.82 335.68,351.42 339.54,399.35 343.41,395.59 347.27,370.72 351.14,370.58 355.00,370.71 358.87,382.77 362.74,404.61 366.60,369.80 370.47,387.80 374.33,379.74 378.20,384.30 382.06,363.02 385.93,344.04 389.79,339.34 393.66,348.51 397.52,372.60 401.39,351.93 405.25,339.87 409.12,329.47 412.98,364.38 416.85,374.22 420.71,369.30 424.58,365.49 428.45,359.96 432.31,360.32 436.18,334.36 440.04,361.05 443.91,403.74 447.77,400.95 451.64,429.35 455.50,360.45 459.37,368.11 463.23,397.74 467.10,405.93 470.96,401.11 474.83,414.66 478.69,378.57 482.56,363.52 486.43,372.97 490.29,364.33 494.16,376.62 498.02,387.03 501.89,378.12 505.75,373.82 509.62,387.31 513.48,370.25 517.35,384.53 521.21,410.03 525.08,391.88 528.94,418.08 532.81,407.16 536.67,423.53 540.54,419.55 544.41,418.40 548.27,403.64 552.14,413.66 556.00,409.40 559.87,424.67 563.73,413.78 567.60,434.55 571.46,424.87 575.33,432.69 579.19,439.38 583.06,438.13 586.92,441.40 590.79,432.23 594.65,433.22 598.52,426.37 602.39,417.17 606.25,425.19 610.12,407.75 613.98,409.97 617.85,395.53 621.71,405.36 625.58,397.32 629.44,388.55 633.31,394.91 637.17,392.80 641.04,392.60 644.90,405.23 648.77,423.34 652.63,475.91" fill="none" stroke="#2ca02c" stroke-width="0.85" stroke-opacity="1.00" stroke-linejoin="round"/>
<polyline points="53.51,384.57 57.37,390.53 61.24,386.56 65.10,392.52 68.97,390.53 72.84,383.18 76.70,406.03 80.57,398.68 84.43,392.12 88.30,405.23 92.16,414.17 96.03,403.64 99.89,435.43 103.76,434.63 107.62,442.78 111.49,450.53 115.35,427.88 119.22,429.27 123.08,417.15 126.95,395.10 130.82,381.60 134.68,407.42 138.55,388.55 142.41,402.45 146.28,422.91 150.14,431.06 154.01,409.80 157.87,388.15 161.74,404.04 165.60,412.98 169.47,408.21 173.33,417.55 177.20,402.25 181.06,411.39 184.93,421.92 188.80,408.02 192.66,412.98 196.53,412.98 200.39,403.25 204.26,381.79 208.12,363.92 211.99,394.90 215.85,398.28 219.72,402.25 223.58,389.14 227.45,393.32 231.31,398.28 235.18,404.84 239.04,395.90 242.91,404.04 246.78,402.25 250.64,421.92 254.51,403.25 258.37,376.63 262.24,383.98 266.10,410.80 269.97,390.34 273.83,387.36 277.70,400.07 281.56,411.39 285.43,401.26 289.29,393.12 293.16,398.88 297.02,403.45 300.89,368.68 304.76,397.88 308.62,367.69 312.49,370.67 316.35,365.31 320.22,372.66 324.08,374.84 327.95,357.76 331.81,349.22 335.68,352.59 339.54,402.85 343.41,395.10 347.27,369.48 351.14,371.27 355.00,371.27 358.87,383.98 362.74,406.03 366.60,367.69 370.47,389.54 374.33,379.41 378.20,384.97 382.06,362.13 385.93,343.85 389.79,340.28 393.66,350.21 397.52,374.84 401.39,351.20 405.25,340.28 409.12,330.15 412.98,367.69 416.85,375.24 420.71,369.48 424.58,365.90 428.45,360.34 432.31,361.13 436.18,333.72 440.04,363.92 443.91,406.62 447.77,400.47 451.64,430.86 455.50,355.97 459.37,369.68 463.23,399.87 467.10,406.23 470.96,400.67 474.83,415.36 478.69,376.23 482.56,363.32 486.43,374.25 490.29,364.31 494.16,378.02 498.02,387.95 501.89,377.82 505.75,374.05 509.62,388.55 513.48,369.48 517.35,385.97 521.21,411.59 525.08,390.53 528.94,419.74 532.81,406.03 536.67,424.30 540.54,418.74 544.41,417.95 548.27,402.45 552.14,414.17 556.00,408.81 559.87,425.30 563.73,412.58 567.60,435.43 571.46,423.51 575.33,432.65 579.19,439.00 583.06,437.22 586.92,440.79 590.79,430.86 594.65,432.65 598.52,425.30 602.39,416.16 606.25,425.30 610.12,406.23 613.98,410.00 617.85,394.51 621.71,406.03 625.58,396.69 629.44,388.15 633.31,395.50 637.17,392.72 641.04,392.72 644.90,406.03 648.77,424.11 652.63,474.76" fill="none" stroke="#d62728" stroke-width="0.85" stroke-opacity="1.00" stroke-linejoin="round"/>
<polyline points="53.51,388.34 57.37,389.16 61.24,387.13 65.10,391.18 68.97,390.78 72.84,384.37 76.70,401.52 80.57,400.18 84.43,393.33 88.30,402.70 92.16,412.67 96.03,405.90 99.89,429.70 103.76,435.53 107.62,442.02 111.49,450.01 115.35,433.10 119.22,429.61 123.08,420.01 126.95,399.53 130.82,384.01 134.68,402.33 138.55,392.20 142.41,399.70 146.28,419.24 150.14,430.06 154.01,414.37 157.87,392.36 161.74,400.91 165.60,411.45 169.47,409.39 173.33,416.03 177.20,405.45 181.06,409.79 184.93,420.25 188.80,411.05 192.66,412.26 196.53,413.28 200.39,405.33 204.26,385.83 208.12,366.86 211.99,388.51 215.85,397.59 219.72,401.52 223.58,391.63 227.45,392.36 231.31,397.26 235.18,403.63 239.04,397.67 242.91,402.49 246.78,402.70 250.64,418.39 254.51,407.16 258.37,381.62 262.24,382.18 266.10,405.57 269.97,394.34 273.83,387.74 277.70,397.51 281.56,409.34 285.43,403.39 289.29,394.67 293.16,397.71 297.02,402.62 300.89,375.17 304.76,391.91 308.62,373.22 312.49,369.49 316.35,365.72 320.22,370.63 324.08,373.91 327.95,360.41 331.81,349.95 335.68,350.97 339.54,392.68 343.41,396.62 347.27,374.12 351.14,370.35 355.00,370.71 358.87,381.09 362.74,401.68 366.60,374.89 370.47,384.90 374.33,381.09 378.20,383.56 382.06,366.05 385.93,346.47 389.79,339.82 393.66,347.20 397.52,369.33 401.39,355.06 405.25,341.32 409.12,322.87 412.98,359.40 416.85,373.22 420.71,370.06 424.58,365.97 428.45,360.70 432.31,360.21 436.18,323.89 440.04,357.05 443.91,398.07 447.77,401.76 451.64,425.32 455.50,370.39 459.37,366.29 463.23,393.74 467.10,405.09 470.96,401.84 474.83,412.71 478.69,383.76 482.56,365.24 486.43,371.52 490.29,365.64 494.16,374.80 498.02,385.71 501.89,379.47 505.75,374.32 509.62,385.39 513.48,372.78 517.35,382.35 521.21,406.63 525.08,394.67 528.94,414.21 532.81,408.98 536.67,421.10 540.54,420.29 544.41,418.51 548.27,405.70 552.14,412.10 556.00,410.11 559.87,422.48 563.73,415.47 567.60,431.52 571.46,426.45 575.33,431.48 579.19,438.53 583.06,438.37 586.92,440.93 590.79,433.55 594.65,432.98 598.52,427.34 602.39,418.39 606.25,423.98 610.12,410.28 613.98,409.47 617.85,397.59 621.71,403.83 625.58,398.56 629.44,389.68 633.31,393.94 637.17,393.17 641.04,392.60 644.90,403.47 648.77,420.94 652.63,476.32" fill="none" stroke="#9467bd" stroke-width="0.85" stroke-opacity="1.00" stroke-linejoin="round"/>
<polyline points="53.51,404.58 57.37,389.78 61.24,392.14 65.10,389.82 68.97,393.80 72.84,392.95 76.70,387.34 80.57,403.38 84.43,400.31 88.30,394.74 92.16,403.71 96.03,411.61 99.89,404.79 103.76,427.06 107.62,429.72 111.49,435.63 115.35,442.15 119.22,426.30 123.08,425.01 126.95,416.25 130.82,398.82 134.68,386.64 138.55,404.24 142.41,393.01 146.28,401.30 150.14,417.75 154.01,425.82 157.87,411.04 161.74,392.96 165.60,402.42 169.47,410.61 173.33,408.02 177.20,414.40 181.06,404.11 184.93,409.26 188.80,417.93 192.66,408.79 196.53,411.02 200.39,411.53 204.26,404.37 208.12,387.62 211.99,372.30 215.85,393.24 219.72,398.88 223.58,402.14 227.45,392.92 231.31,394.64 235.18,398.72 239.04,404.04 242.91,398.14 246.78,403.22 250.64,402.73 254.51,417.00 258.37,405.29 262.24,383.82 266.10,386.51 269.97,406.96 273.83,394.67 277.70,390.39 281.56,399.42 285.43,409.04 289.29,402.75 293.16,395.74 297.02,399.14 300.89,403.08 304.76,378.01 308.62,395.91 312.49,376.71 316.35,375.82 320.22,372.18 324.08,377.03 327.95,379.39 331.81,367.06 335.68,359.04 339.54,360.65 343.41,397.92 347.27,397.36 351.14,377.74 355.00,376.44 358.87,376.62 362.74,385.96 366.60,403.46 370.47,377.54 374.33,389.68 378.20,384.47 382.06,387.52 385.93,371.31 389.79,355.55 393.66,351.06 397.52,357.99 401.39,377.10 405.25,362.25 409.12,351.81 412.98,343.25 416.85,369.80 420.71,379.17 424.58,375.71 428.45,372.50 432.31,368.05 436.18,368.06 440.04,348.00 443.91,367.39 447.77,401.85 451.64,401.68 455.50,423.38 459.37,371.46 463.23,373.89 467.10,397.47 470.96,405.23 474.83,401.79 478.69,412.02 482.56,384.77 486.43,371.29 490.29,378.00 494.16,371.82 498.02,380.87 501.89,389.57 505.75,383.14 509.62,379.33 513.48,389.60 517.35,377.07 521.21,387.24 525.08,407.75 528.94,394.89 532.81,414.20 536.67,407.11 540.54,419.14 544.41,416.91 548.27,415.76 552.14,404.30 556.00,411.33 559.87,408.58 563.73,420.15 567.60,412.49 571.46,427.98 575.33,421.55 579.19,427.05 583.06,432.65 586.92,431.99 590.79,434.43 594.65,427.50 598.52,427.80 602.39,422.58 606.25,415.12 610.12,420.90 613.98,407.82 617.85,408.65 621.71,397.65 625.58,404.53 629.44,398.85 633.31,391.62 637.17,396.15 641.04,394.86 644.90,394.57 648.77,404.35 652.63,424.83" fill="none" stroke="#8c564b" stroke-width="0.85" stroke-opacity="1.00" stroke-linejoin="round"/>
<rect x="23.70" y="315.20" width="659.60" height="168.30" fill="none" stroke="#666" stroke-width="1.0"/>
<line x1="51.30" y1="483.50" x2="51.30" y2="484.80" stroke="#444" stroke-width="0.6"/>
<text transform="translate(50.50,496.30) rotate(-45)" font-size="5.6" text-anchor="middle" dominant-baseline="central" fill="#222" textLength="19.8" lengthAdjust="spacingAndGlyphs">2020-01</text>
<line x1="118.11" y1="483.50" x2="118.11" y2="484.80" stroke="#444" stroke-width="0.6"/>
<text transform="translate(117.31,496.30) rotate(-45)" font-size="5.6" text-anchor="middle" dominant-baseline="central" fill="#222" textLength="19.8" lengthAdjust="spacingAndGlyphs">2020-05</text>
<line x1="186.03" y1="483.50" x2="186.03" y2="484.80" stroke="#444" stroke-width="0.6"/>
<text transform="translate(185.23,496.30) rotate(-45)" font-size="5.6" text-anchor="middle" dominant-baseline="central" fill="#222" textLength="19.8" lengthAdjust="spacingAndGlyphs">2020-09</text>
<line x1="253.40" y1="483.50" x2="253.40" y2="484.80" stroke="#444" stroke-width="0.6"/>
<text transform="translate(252.60,496.30) rotate(-45)" font-size="5.6" text-anchor="middle" dominant-baseline="central" fill="#222" textLength="19.8" lengthAdjust="spacingAndGlyphs">2021-01</text>
<line x1="319.66" y1="483.50" x2="319.66" y2="484.80" stroke="#444" stroke-width="0.6"/>
<text transform="translate(318.86,496.30) rotate(-45)" font-size="5.6" text-anchor="middle" dominant-baseline="central" fill="#222" textLength="19.8" lengthAdjust="spacingAndGlyphs">2021-05</text>
<line x1="387.58" y1="483.50" x2="387.58" y2="484.80" stroke="#444" stroke-width="0.6"/>
<text transform="translate(386.78,496.30) rotate(-45)" font-size="5.6" text-anchor="middle" dominant-baseline="central" fill="#222" textLength="19.8" lengthAdjust="spacingAndGlyphs">2021-09</text>
<line x1="454.95" y1="483.50" x2="454.95" y2="484.80" stroke="#444" stroke-width="0.6"/>
<text transform="translate(454.15,496.30) rotate(-45)" font-size="5.6" text-anchor="middle" dominant-baseline="central" fill="#222" textLength="19.8" lengthAdjust="spacingAndGlyphs">2022-01</text>
<line x1="521.21" y1="483.50" x2="521.21" y2="484.80" stroke="#444" stroke-width="0.6"/>
<text transform="translate(520.41,496.30) rotate(-45)" font-size="5.6" text-anchor="middle" dominant-baseline="central" fill="#222" textLength="19.8" lengthAdjust="spacingAndGlyphs">2022-05</text>
<line x1="589.13" y1="483.50" x2="589.13" y2="484.80" stroke="#444" stroke-width="0.6"/>
<text transform="translate(588.33,496.30) rotate(-45)" font-size="5.6" text-anchor="middle" dominant-baseline="central" fill="#222" textLength="19.8" lengthAdjust="spacingAndGlyphs">2022-09</text>
<line x1="656.50" y1="483.50" x2="656.50" y2="484.80" stroke="#444" stroke-width="0.6"/>
<text transform="translate(655.70,496.30) rotate(-45)" font-size="5.6" text-anchor="middle" dominant-baseline="central" fill="#222" textLength="19.8" lengthAdjust="spacingAndGlyphs">2023-01</text>
<line x1="22.40" y1="479.56" x2="23.70" y2="479.56" stroke="#444" stroke-width="0.6"/>
<text x="20.40" y="481.26" font-size="4.80" text-anchor="end" fill="#222" textLength="8.20" lengthAdjust="spacingAndGlyphs" >200</text>
<line x1="22.40" y1="459.29" x2="23.70" y2="459.29" stroke="#444" stroke-width="0.6"/>
<text x="20.40" y="460.99" font-size="4.80" text-anchor="end" fill="#222" textLength="8.20" lengthAdjust="spacingAndGlyphs" >300</text>
<line x1="22.40" y1="439.02" x2="23.70" y2="439.02" stroke="#444" stroke-width="0.6"/>
<text x="20.40" y="440.72" font-size="4.80" text-anchor="end" fill="#222" textLength="8.20" lengthAdjust="spacingAndGlyphs" >400</text>
<line x1="22.40" y1="418.75" x2="23.70" y2="418.75" stroke="#444" stroke-width="0.6"/>
<text x="20.40" y="420.45" font-size="4.80" text-anchor="end" fill="#222" textLength="8.20" lengthAdjust="spacingAndGlyphs" >500</text>
<line x1="22.40" y1="398.48" x2="23.70" y2="398.48" stroke="#444" stroke-width="0.6"/>
<text x="20.40" y="400.18" font-size="4.80" text-anchor="end" fill="#222" textLength="8.20" lengthAdjust="spacingAndGlyphs" >600</text>
<line x1="22.40" y1="378.21" x2="23.70" y2="378.21" stroke="#444" stroke-width="0.6"/>
<text x="20.40" y="379.91" font-size="4.80" text-anchor="end" fill="#222" textLength="8.20" lengthAdjust="spacingAndGlyphs" >700</text>
<line x1="22.40" y1="357.94" x2="23.70" y2="357.94" stroke="#444" stroke-width="0.6"/>
<text x="20.40" y="359.64" font-size="4.80" text-anchor="end" fill="#222" textLength="8.20" lengthAdjust="spacingAndGlyphs" >800</text>
<line x1="22.40" y1="337.67" x2="23.70" y2="337.67" stroke="#444" stroke-width="0.6"/>
<text x="20.40" y="339.37" font-size="4.80" text-anchor="end" fill="#222" textLength="8.20" lengthAdjust="spacingAndGlyphs" >900</text>
<line x1="22.40" y1="317.40" x2="23.70" y2="317.40" stroke="#444" stroke-width="0.6"/>
<text x="20.40" y="319.10" font-size="4.80" text-anchor="end" fill="#222" textLength="10.90" lengthAdjust="spacingAndGlyphs" >1000</text>
<text x="353.50" y="312.10" font-size="6.40" text-anchor="middle" fill="#222" textLength="61.10" lengthAdjust="spacingAndGlyphs" >All Models vs Real</text>
<text x="353.50" y="510.80" font-size="5.00" text-anchor="middle" fill="#222" textLength="11.20" lengthAdjust="spacingAndGlyphs" >Date</text>
<text transform="translate(4.60,399.35) rotate(-90)" font-size="4.3" text-anchor="middle" fill="#222" textLength="42.2" lengthAdjust="spacingAndGlyphs">Number of Cases</text>
</g>
<rect x="627.60" y="317.60" width="53.20" height="52.30" rx="1" fill="#fff" fill-opacity="0.8" stroke="#d8d8d8" stroke-width="0.5"/>
<line x1="628.9" y1="322.10" x2="639.5" y2="322.10" stroke="#000" stroke-width="1.40"/>
<text x="642.90" y="323.80" font-size="4.60" text-anchor="start" fill="#222" textLength="10.10" lengthAdjust="spacingAndGlyphs" >Real</text>
<line x1="628.9" y1="329.32" x2="639.5" y2="329.32" stroke="#1f77b4" stroke-width="1.00"/>
<text x="642.90" y="331.02" font-size="4.60" text-anchor="start" fill="#222" textLength="12.20" lengthAdjust="spacingAndGlyphs" >LSTM</text>
<line x1="628.9" y1="336.54" x2="639.5" y2="336.54" stroke="#ff7f0e" stroke-width="1.00"/>
<text x="642.90" y="338.24" font-size="4.60" text-anchor="start" fill="#222" textLength="10.00" lengthAdjust="spacingAndGlyphs" >GRU</text>
<line x1="628.9" y1="343.76" x2="639.5" y2="343.76" stroke="#2ca02c" stroke-width="1.00"/>
<text x="642.90" y="345.46" font-size="4.60" text-anchor="start" fill="#222" textLength="36.50" lengthAdjust="spacingAndGlyphs" >Random Forest</text>
<line x1="628.9" y1="350.98" x2="639.5" y2="350.98" stroke="#d62728" stroke-width="1.00"/>
<text x="642.90" y="352.68" font-size="4.60" text-anchor="start" fill="#222" textLength="9.50" lengthAdjust="spacingAndGlyphs" >SVR</text>
<line x1="628.9" y1="358.20" x2="639.5" y2="358.20" stroke="#9467bd" stroke-width="1.00"/>
<text x="642.90" y="359.90" font-size="4.60" text-anchor="start" fill="#222" textLength="19.50" lengthAdjust="spacingAndGlyphs" >XGBoost</text>
<line x1="628.9" y1="365.42" x2="639.5" y2="365.42" stroke="#8c564b" stroke-width="1.00"/>
<text x="642.90" y="367.12" font-size="4.60" text-anchor="start" fill="#222" textLength="15.00" lengthAdjust="spacingAndGlyphs" >ARIMA</text></svg>
</body></html>
